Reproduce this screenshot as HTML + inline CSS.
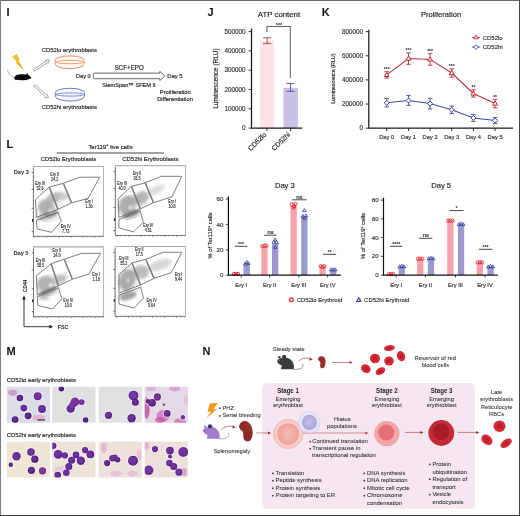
<!DOCTYPE html>
<html><head><meta charset="utf-8"><title>fig</title>
<style>
html,body{margin:0;padding:0;background:#fff;width:520px;height:516px;overflow:hidden;}
svg{display:block;font-family:"Liberation Sans",sans-serif;will-change:transform;}
</style></head><body>
<svg width="520" height="516" viewBox="0 0 520 516">
<defs>
<filter id="bl" x="-50%" y="-50%" width="200%" height="200%"><feGaussianBlur stdDeviation="1.8"/></filter>
<filter id="bs" x="-10%" y="-10%" width="120%" height="120%"><feGaussianBlur stdDeviation="0.35"/></filter>
</defs>
<rect x="0" y="0" width="520" height="516" fill="#fff"/>
<text x="6.40" y="15.70" font-size="11.0" font-weight="bold" fill="#111" >I</text>
<defs><linearGradient id="lg1" x1="0" y1="0" x2="0" y2="1"><stop offset="0" stop-color="#f7c81e"/><stop offset="1" stop-color="#f0a010"/></linearGradient></defs><polygon points="12.2,56.8 16.8,53.9 19.6,59.9 18.3,60.4 24.3,71.0 15.6,62.4 16.9,61.8" fill="url(#lg1)"/>
<path d="M7.4,69.6 C8.6,73.5 10.0,76.6 14.8,77.6" fill="none" stroke="#666" stroke-width="0.5"/>
<path d="M14.2,78.0 C14.6,75.2 18.5,74.2 22.0,74.3 C24.5,74.3 26.0,74.6 26.6,74.2 L26.9,72.9 L27.8,73.6 L28.2,75.0 C29.6,75.6 31.0,77.1 31.4,78.3 C30.0,79.0 28.6,79.2 27.4,79.6 L27.0,80.3 L25.8,79.9 C22.6,80.4 19.6,80.4 16.8,79.8 L15.5,80.3 L15.2,79.4 C14.5,79.1 14.2,78.6 14.2,78.0 Z" fill="#0a0a0a"/>
<polygon points="0.00,-1.00 15.82,-1.00 15.82,-1.95 18.92,0.00 15.82,1.95 15.82,1.00 0.00,1.00" transform="translate(33.8,70.6) rotate(-34.45)" fill="#fff" stroke="#777" stroke-width="0.6" stroke-linejoin="miter"/>
<polygon points="0.00,-1.00 15.59,-1.00 15.59,-1.95 18.69,0.00 15.59,1.95 15.59,1.00 0.00,1.00" transform="translate(34.4,85.4) rotate(41.96)" fill="#fff" stroke="#777" stroke-width="0.6" stroke-linejoin="miter"/>
<path d="M55.2,60.1 A14.5,4.2 0 0 1 84.2,60.1 L84.2,64.1 A14.5,4.5 0 0 1 55.2,64.1 Z" fill="#fff8f3" stroke="#dc7f4e" stroke-width="0.85"/>
<ellipse cx="69.7" cy="62.1" rx="13.9" ry="1.6" fill="none" stroke="#dc7f4e" stroke-width="0.7"/>
<path d="M55.400000000000006,92.5 A14.5,4.2 0 0 1 84.4,92.5 L84.4,96.5 A14.5,4.5 0 0 1 55.400000000000006,96.5 Z" fill="#f6f7fd" stroke="#5866b6" stroke-width="0.85"/>
<ellipse cx="69.9" cy="94.5" rx="13.9" ry="1.6" fill="none" stroke="#5866b6" stroke-width="0.7"/>
<text x="41.70" y="51.60" font-size="5.92" fill="#1e1e1e" stroke="#1e1e1e" stroke-width="0.16" >CD52lo erythroblasts</text>
<text x="41.70" y="109.00" font-size="5.92" fill="#1e1e1e" stroke="#1e1e1e" stroke-width="0.16" >CD52hi erythroblasts</text>
<text x="76.00" y="77.80" font-size="5.65" fill="#1e1e1e" stroke="#1e1e1e" stroke-width="0.16" >Day 0</text>
<path d="M94.6,73.1 L159.8,73.1 L159.8,71.4 L164.9,75.9 L159.8,80.5 L159.8,78.7 L94.6,78.7 Q93.4,78.7 93.4,77.5 L93.4,74.3 Q93.4,73.1 94.6,73.1 Z" fill="#fff" stroke="#4a4a4a" stroke-width="0.85"/>
<text x="114.40" y="70.10" font-size="6.3" fill="#1e1e1e" stroke="#1e1e1e" stroke-width="0.16" >SCF+EPO</text>
<text x="102.20" y="87.00" font-size="5.6" fill="#1e1e1e" stroke="#1e1e1e" stroke-width="0.16" >StemSpan™ SFEM II</text>
<text x="167.30" y="77.70" font-size="5.8" fill="#1e1e1e" stroke="#1e1e1e" stroke-width="0.16" >Day 5</text>
<text x="159.80" y="94.00" font-size="5.8" fill="#1e1e1e" stroke="#1e1e1e" stroke-width="0.16" >Proliferation</text>
<text x="157.20" y="100.90" font-size="5.8" fill="#1e1e1e" stroke="#1e1e1e" stroke-width="0.16" >Differentiation</text>
<text x="207.60" y="15.70" font-size="11.0" font-weight="bold" fill="#111" >J</text>
<text x="257.80" y="16.90" font-size="7.84" fill="#222" stroke="#222" stroke-width="0.16" >ATP content</text>
<rect x="260.1" y="40.7" width="14.0" height="87.4" fill="#fde2e6"/>
<rect x="283.4" y="87.8" width="14.5" height="40.3" fill="#c6c3e6"/>
<path d="M251.5,28.5 V128.1 H302.2" fill="none" stroke="#1a1a1a" stroke-width="1.25"/>
<line x1="248.6" y1="31.60" x2="251.4" y2="31.60" stroke="#1a1a1a" stroke-width="0.9"/>
<text x="245.60" y="33.80" font-size="6.3" text-anchor="end" fill="#333" stroke="#333" stroke-width="0.16" >500000</text>
<line x1="248.6" y1="50.90" x2="251.4" y2="50.90" stroke="#1a1a1a" stroke-width="0.9"/>
<text x="245.60" y="53.10" font-size="6.3" text-anchor="end" fill="#333" stroke="#333" stroke-width="0.16" >400000</text>
<line x1="248.6" y1="70.20" x2="251.4" y2="70.20" stroke="#1a1a1a" stroke-width="0.9"/>
<text x="245.60" y="72.40" font-size="6.3" text-anchor="end" fill="#333" stroke="#333" stroke-width="0.16" >300000</text>
<line x1="248.6" y1="89.50" x2="251.4" y2="89.50" stroke="#1a1a1a" stroke-width="0.9"/>
<text x="245.60" y="91.70" font-size="6.3" text-anchor="end" fill="#333" stroke="#333" stroke-width="0.16" >200000</text>
<line x1="248.6" y1="108.80" x2="251.4" y2="108.80" stroke="#1a1a1a" stroke-width="0.9"/>
<text x="245.60" y="111.00" font-size="6.3" text-anchor="end" fill="#333" stroke="#333" stroke-width="0.16" >100000</text>
<line x1="248.6" y1="128.10" x2="251.4" y2="128.10" stroke="#1a1a1a" stroke-width="0.9"/>
<text x="245.60" y="130.30" font-size="6.3" text-anchor="end" fill="#333" stroke="#333" stroke-width="0.16" >0</text>
<line x1="266.9" y1="128.1" x2="266.9" y2="131.0" stroke="#1a1a1a" stroke-width="0.9"/>
<line x1="290.6" y1="128.1" x2="290.6" y2="131.0" stroke="#1a1a1a" stroke-width="0.9"/>
<path d="M267.10,37.80 V43.60 M263.00,37.80 H271.20 M263.00,43.60 H271.20" stroke="#b8303c" stroke-width="0.9" fill="none"/>
<path d="M290.50,83.50 V91.30 M286.60,83.50 H294.40 M286.60,91.30 H294.40" stroke="#4a4e9e" stroke-width="0.9" fill="none"/>
<path d="M266.9,32 V26.5 H290.3 V77.9" fill="none" stroke="#333" stroke-width="0.8"/>
<text x="279.00" y="26.60" font-size="5.5" text-anchor="middle" font-weight="bold" fill="#222" >***</text>
<text transform="translate(218.3,78.6) rotate(-90)" font-size="6.4" text-anchor="middle" fill="#1e1e1e" textLength="60.3" stroke="#1e1e1e" stroke-width="0.16" lengthAdjust="spacingAndGlyphs">Luminescence (RLU)</text>
<text transform="translate(266.9,135.0) rotate(-45)" font-size="6.9" text-anchor="end" fill="#1e1e1e" stroke="#1e1e1e" stroke-width="0.16">CD52lo</text>
<text transform="translate(290.6,135.0) rotate(-45)" font-size="6.9" text-anchor="end" fill="#1e1e1e" stroke="#1e1e1e" stroke-width="0.16">CD52hi</text>
<text x="321.80" y="15.70" font-size="11.0" font-weight="bold" fill="#111" >K</text>
<text x="421.00" y="16.90" font-size="7.53" fill="#222" stroke="#222" stroke-width="0.16" >Proliferation</text>
<path d="M368.8,29.7 V128.1 H513.0" fill="none" stroke="#1a1a1a" stroke-width="1.25"/>
<line x1="365.7" y1="31.60" x2="368.5" y2="31.60" stroke="#1a1a1a" stroke-width="0.9"/>
<text x="362.90" y="33.80" font-size="6.3" text-anchor="end" fill="#333" stroke="#333" stroke-width="0.16" >800000</text>
<line x1="365.7" y1="55.75" x2="368.5" y2="55.75" stroke="#1a1a1a" stroke-width="0.9"/>
<text x="362.90" y="57.95" font-size="6.3" text-anchor="end" fill="#333" stroke="#333" stroke-width="0.16" >600000</text>
<line x1="365.7" y1="79.90" x2="368.5" y2="79.90" stroke="#1a1a1a" stroke-width="0.9"/>
<text x="362.90" y="82.10" font-size="6.3" text-anchor="end" fill="#333" stroke="#333" stroke-width="0.16" >400000</text>
<line x1="365.7" y1="104.05" x2="368.5" y2="104.05" stroke="#1a1a1a" stroke-width="0.9"/>
<text x="362.90" y="106.25" font-size="6.3" text-anchor="end" fill="#333" stroke="#333" stroke-width="0.16" >200000</text>
<line x1="365.7" y1="128.20" x2="368.5" y2="128.20" stroke="#1a1a1a" stroke-width="0.9"/>
<text x="362.90" y="130.40" font-size="6.3" text-anchor="end" fill="#333" stroke="#333" stroke-width="0.16" >0</text>
<line x1="386.7" y1="128.1" x2="386.7" y2="131.0" stroke="#1a1a1a" stroke-width="0.9"/>
<text x="386.70" y="139.40" font-size="5.75" text-anchor="middle" fill="#333" stroke="#333" stroke-width="0.16" >Day 0</text>
<line x1="408.5" y1="128.1" x2="408.5" y2="131.0" stroke="#1a1a1a" stroke-width="0.9"/>
<text x="408.50" y="139.40" font-size="5.75" text-anchor="middle" fill="#333" stroke="#333" stroke-width="0.16" >Day 1</text>
<line x1="430.1" y1="128.1" x2="430.1" y2="131.0" stroke="#1a1a1a" stroke-width="0.9"/>
<text x="430.10" y="139.40" font-size="5.75" text-anchor="middle" fill="#333" stroke="#333" stroke-width="0.16" >Day 2</text>
<line x1="451.7" y1="128.1" x2="451.7" y2="131.0" stroke="#1a1a1a" stroke-width="0.9"/>
<text x="451.70" y="139.40" font-size="5.75" text-anchor="middle" fill="#333" stroke="#333" stroke-width="0.16" >Day 3</text>
<line x1="473.4" y1="128.1" x2="473.4" y2="131.0" stroke="#1a1a1a" stroke-width="0.9"/>
<text x="473.40" y="139.40" font-size="5.75" text-anchor="middle" fill="#333" stroke="#333" stroke-width="0.16" >Day 4</text>
<line x1="495.1" y1="128.1" x2="495.1" y2="131.0" stroke="#1a1a1a" stroke-width="0.9"/>
<text x="495.10" y="139.40" font-size="5.75" text-anchor="middle" fill="#333" stroke="#333" stroke-width="0.16" >Day 5</text>
<text transform="translate(335.2,78.6) rotate(-90)" font-size="6.2" text-anchor="middle" fill="#1e1e1e" textLength="50.2" stroke="#1e1e1e" stroke-width="0.16" lengthAdjust="spacingAndGlyphs">Luminescence (RLU)</text>
<polyline points="386.7,102.8 408.5,100.5 430.1,103.6 451.7,109.8 473.4,117.9 495.1,120.6" fill="none" stroke="#3f4a9e" stroke-width="1.05"/>
<polyline points="386.7,74.9 408.5,58.6 430.1,59.4 451.7,73.0 473.4,93.5 495.1,103.6" fill="none" stroke="#b82c3c" stroke-width="1.05"/>
<path d="M386.70,98.60 V107.00 M384.40,98.60 H389.00 M384.40,107.00 H389.00" stroke="#3f4a9e" stroke-width="0.9" fill="none"/>
<polygon points="386.7,100.3 389.2,102.8 386.7,105.3 384.2,102.8" fill="#fff" stroke="#3f4a9e" stroke-width="1.0"/>
<path d="M408.50,95.60 V105.40 M406.20,95.60 H410.80 M406.20,105.40 H410.80" stroke="#3f4a9e" stroke-width="0.9" fill="none"/>
<polygon points="408.5,98.0 411.0,100.5 408.5,103.0 406.0,100.5" fill="#fff" stroke="#3f4a9e" stroke-width="1.0"/>
<path d="M430.10,98.40 V108.80 M427.80,98.40 H432.40 M427.80,108.80 H432.40" stroke="#3f4a9e" stroke-width="0.9" fill="none"/>
<polygon points="430.1,101.1 432.6,103.6 430.1,106.1 427.6,103.6" fill="#fff" stroke="#3f4a9e" stroke-width="1.0"/>
<path d="M451.70,106.00 V113.60 M449.40,106.00 H454.00 M449.40,113.60 H454.00" stroke="#3f4a9e" stroke-width="0.9" fill="none"/>
<polygon points="451.7,107.3 454.2,109.8 451.7,112.3 449.2,109.8" fill="#fff" stroke="#3f4a9e" stroke-width="1.0"/>
<path d="M473.40,114.40 V121.40 M471.10,114.40 H475.70 M471.10,121.40 H475.70" stroke="#3f4a9e" stroke-width="0.9" fill="none"/>
<polygon points="473.4,115.4 475.9,117.9 473.4,120.4 470.9,117.9" fill="#fff" stroke="#3f4a9e" stroke-width="1.0"/>
<path d="M495.10,117.60 V123.60 M492.80,117.60 H497.40 M492.80,123.60 H497.40" stroke="#3f4a9e" stroke-width="0.9" fill="none"/>
<polygon points="495.1,118.1 497.6,120.6 495.1,123.1 492.6,120.6" fill="#fff" stroke="#3f4a9e" stroke-width="1.0"/>
<path d="M386.70,71.70 V78.10 M384.40,71.70 H389.00 M384.40,78.10 H389.00" stroke="#b82c3c" stroke-width="0.9" fill="none"/>
<polygon points="386.7,72.30000000000001 389.09999999999997,76.5 384.3,76.5" fill="#fff" stroke="#b82c3c" stroke-width="1.0"/>
<text x="386.70" y="71.25" font-size="5.0" text-anchor="middle" font-weight="bold" fill="#222" >***</text>
<path d="M408.50,52.90 V64.30 M406.20,52.90 H410.80 M406.20,64.30 H410.80" stroke="#b82c3c" stroke-width="0.9" fill="none"/>
<polygon points="408.5,56.0 410.9,60.2 406.1,60.2" fill="#fff" stroke="#b82c3c" stroke-width="1.0"/>
<text x="408.50" y="52.45" font-size="5.0" text-anchor="middle" font-weight="bold" fill="#222" >***</text>
<path d="M430.10,53.60 V65.20 M427.80,53.60 H432.40 M427.80,65.20 H432.40" stroke="#b82c3c" stroke-width="0.9" fill="none"/>
<polygon points="430.1,56.8 432.5,61.0 427.70000000000005,61.0" fill="#fff" stroke="#b82c3c" stroke-width="1.0"/>
<text x="430.10" y="53.15" font-size="5.0" text-anchor="middle" font-weight="bold" fill="#222" >***</text>
<path d="M451.70,68.80 V77.20 M449.40,68.80 H454.00 M449.40,77.20 H454.00" stroke="#b82c3c" stroke-width="0.9" fill="none"/>
<polygon points="451.7,70.4 454.09999999999997,74.6 449.3,74.6" fill="#fff" stroke="#b82c3c" stroke-width="1.0"/>
<text x="451.70" y="68.35" font-size="5.0" text-anchor="middle" font-weight="bold" fill="#222" >***</text>
<path d="M473.40,89.90 V97.10 M471.10,89.90 H475.70 M471.10,97.10 H475.70" stroke="#b82c3c" stroke-width="0.9" fill="none"/>
<polygon points="473.4,90.9 475.79999999999995,95.1 471.0,95.1" fill="#fff" stroke="#b82c3c" stroke-width="1.0"/>
<text x="473.40" y="89.45" font-size="5.0" text-anchor="middle" font-weight="bold" fill="#222" >**</text>
<path d="M495.10,99.40 V107.80 M492.80,99.40 H497.40 M492.80,107.80 H497.40" stroke="#b82c3c" stroke-width="0.9" fill="none"/>
<polygon points="495.1,101.0 497.5,105.19999999999999 492.70000000000005,105.19999999999999" fill="#fff" stroke="#b82c3c" stroke-width="1.0"/>
<text x="495.10" y="98.95" font-size="5.0" text-anchor="middle" font-weight="bold" fill="#222" >**</text>
<line x1="472.2" y1="37.4" x2="479.8" y2="37.4" stroke="#b82c3c" stroke-width="1"/>
<polygon points="476,35 478.2,38.8 473.8,38.8" fill="#fff" stroke="#b82c3c" stroke-width="0.9"/>
<text x="482.70" y="39.60" font-size="6.0" fill="#333" stroke="#333" stroke-width="0.16" >CD52lo</text>
<line x1="472.2" y1="47.1" x2="479.8" y2="47.1" stroke="#3f4a9e" stroke-width="1"/>
<polygon points="476,44.8 478.3,47.1 476,49.4 473.7,47.1" fill="#fff" stroke="#3f4a9e" stroke-width="0.9"/>
<text x="482.70" y="49.30" font-size="6.0" fill="#333" stroke="#333" stroke-width="0.16" >CD52hi</text>
<text x="6.50" y="148.20" font-size="11.0" font-weight="bold" fill="#111" >L</text>
<line x1="56.7" y1="153.0" x2="164.0" y2="153.0" stroke="#333" stroke-width="0.9"/>
<text x="88.4" y="148.5" font-size="5.95" fill="#1e1e1e" stroke="#1e1e1e" stroke-width="0.16">Ter119<tspan font-size="4.2" dy="-2.3">+</tspan><tspan dy="2.3"> live cells</tspan></text>
<text x="40.80" y="161.30" font-size="5.86" fill="#1e1e1e" stroke="#1e1e1e" stroke-width="0.16" >CD52lo Erythroblasts</text>
<text x="122.30" y="161.30" font-size="5.95" fill="#1e1e1e" stroke="#1e1e1e" stroke-width="0.16" >CD52hi Erythroblasts</text>
<text x="13.80" y="174.40" font-size="5.62" font-weight="bold" fill="#222" >Day 3</text>
<text x="13.50" y="255.20" font-size="5.62" font-weight="bold" fill="#222" >Day 5</text>
<g filter="url(#bl)">
<ellipse cx="46" cy="207" rx="8" ry="8" fill="#b6b6b6" opacity="1" transform="rotate(0 46 207)"/>
<ellipse cx="56" cy="197" rx="10" ry="4.5" fill="#bababa" opacity="1" transform="rotate(-12 56 197)"/>
<ellipse cx="49" cy="215" rx="10" ry="3.2" fill="#929292" opacity="1" transform="rotate(-20 49 215)"/>
<ellipse cx="42" cy="218" rx="5" ry="2.5" fill="#b6b6b6" opacity="1" transform="rotate(0 42 218)"/>
<ellipse cx="64" cy="197" rx="6" ry="3" fill="#cacaca" opacity="1" transform="rotate(-15 64 197)"/>
<ellipse cx="50.5" cy="211" rx="2.2" ry="1.8" fill="#fafafa" opacity="1" transform="rotate(0 50.5 211)"/>
</g>
<clipPath id="pc1"><polygon points="35.4,199.7 49.2,187.1 63.3,183.3 79.9,177.2 99.7,177.2 88.1,198.3 70.7,203.2 58,209.4 36.4,217.3"/><polygon points="36.4,220.3 58,212.2 61.3,221.2 51.6,232.3 37.1,228.9"/></clipPath>
<g clip-path="url(#pc1)" fill="none" stroke="#8a8a8a" stroke-width="0.35" opacity="0.75">
<ellipse cx="50.5" cy="211" rx="3.45" ry="2.55" transform="rotate(-20 50.5 211)"/>
<ellipse cx="50.5" cy="211" rx="5.75" ry="4.25" transform="rotate(-20 50.5 211)"/>
<ellipse cx="50.5" cy="211" rx="8.05" ry="5.95" transform="rotate(-20 50.5 211)"/>
<ellipse cx="50.5" cy="211" rx="10.92" ry="8.07" transform="rotate(-20 50.5 211)"/>
<ellipse cx="50.5" cy="211" rx="13.80" ry="10.20" transform="rotate(-20 50.5 211)"/>
</g>
<rect x="33.4" y="166.5" width="70.20" height="69.80" fill="none" stroke="#8c8c8c" stroke-width="0.65"/>
<line x1="33.4" y1="166.5" x2="103.6" y2="166.5" stroke="#b0b0b0" stroke-width="1.0"/>
<path d="M33.4,168.5 V236.3 H103.6" fill="none" stroke="#555" stroke-width="0.6"/>
<line x1="31.599999999999998" y1="172.5" x2="33.4" y2="172.5" stroke="#333" stroke-width="0.7"/>
<line x1="31.599999999999998" y1="189.5" x2="33.4" y2="189.5" stroke="#333" stroke-width="0.7"/>
<line x1="31.599999999999998" y1="208.3" x2="33.4" y2="208.3" stroke="#333" stroke-width="0.7"/>
<line x1="31.599999999999998" y1="231.3" x2="33.4" y2="231.3" stroke="#333" stroke-width="0.7"/>
<rect x="32.0" y="219.1" width="1.2" height="2.6" fill="#111"/>
<line x1="32.5" y1="168.5" x2="33.4" y2="168.5" stroke="#888" stroke-width="0.4"/>
<line x1="32.5" y1="172.5" x2="33.4" y2="172.5" stroke="#888" stroke-width="0.4"/>
<line x1="32.5" y1="176.5" x2="33.4" y2="176.5" stroke="#888" stroke-width="0.4"/>
<line x1="32.5" y1="180.5" x2="33.4" y2="180.5" stroke="#888" stroke-width="0.4"/>
<line x1="32.5" y1="184.5" x2="33.4" y2="184.5" stroke="#888" stroke-width="0.4"/>
<line x1="32.5" y1="188.5" x2="33.4" y2="188.5" stroke="#888" stroke-width="0.4"/>
<line x1="32.5" y1="192.5" x2="33.4" y2="192.5" stroke="#888" stroke-width="0.4"/>
<line x1="32.5" y1="196.5" x2="33.4" y2="196.5" stroke="#888" stroke-width="0.4"/>
<line x1="32.5" y1="200.5" x2="33.4" y2="200.5" stroke="#888" stroke-width="0.4"/>
<line x1="32.5" y1="204.5" x2="33.4" y2="204.5" stroke="#888" stroke-width="0.4"/>
<line x1="32.5" y1="208.5" x2="33.4" y2="208.5" stroke="#888" stroke-width="0.4"/>
<line x1="32.5" y1="212.5" x2="33.4" y2="212.5" stroke="#888" stroke-width="0.4"/>
<line x1="32.5" y1="216.5" x2="33.4" y2="216.5" stroke="#888" stroke-width="0.4"/>
<line x1="32.5" y1="220.5" x2="33.4" y2="220.5" stroke="#888" stroke-width="0.4"/>
<line x1="32.5" y1="224.5" x2="33.4" y2="224.5" stroke="#888" stroke-width="0.4"/>
<line x1="32.5" y1="228.5" x2="33.4" y2="228.5" stroke="#888" stroke-width="0.4"/>
<line x1="32.5" y1="232.5" x2="33.4" y2="232.5" stroke="#888" stroke-width="0.4"/>
<line x1="34.90" y1="236.3" x2="34.90" y2="237.9" stroke="#444" stroke-width="0.5"/>
<line x1="38.90" y1="236.3" x2="38.90" y2="237.20000000000002" stroke="#444" stroke-width="0.5"/>
<line x1="42.90" y1="236.3" x2="42.90" y2="237.20000000000002" stroke="#444" stroke-width="0.5"/>
<line x1="46.90" y1="236.3" x2="46.90" y2="237.9" stroke="#444" stroke-width="0.5"/>
<line x1="50.90" y1="236.3" x2="50.90" y2="237.20000000000002" stroke="#444" stroke-width="0.5"/>
<line x1="54.90" y1="236.3" x2="54.90" y2="237.20000000000002" stroke="#444" stroke-width="0.5"/>
<line x1="58.90" y1="236.3" x2="58.90" y2="237.9" stroke="#444" stroke-width="0.5"/>
<line x1="62.90" y1="236.3" x2="62.90" y2="237.20000000000002" stroke="#444" stroke-width="0.5"/>
<line x1="66.90" y1="236.3" x2="66.90" y2="237.20000000000002" stroke="#444" stroke-width="0.5"/>
<line x1="70.90" y1="236.3" x2="70.90" y2="237.9" stroke="#444" stroke-width="0.5"/>
<line x1="74.90" y1="236.3" x2="74.90" y2="237.20000000000002" stroke="#444" stroke-width="0.5"/>
<line x1="78.90" y1="236.3" x2="78.90" y2="237.20000000000002" stroke="#444" stroke-width="0.5"/>
<line x1="82.90" y1="236.3" x2="82.90" y2="237.9" stroke="#444" stroke-width="0.5"/>
<line x1="86.90" y1="236.3" x2="86.90" y2="237.20000000000002" stroke="#444" stroke-width="0.5"/>
<line x1="90.90" y1="236.3" x2="90.90" y2="237.20000000000002" stroke="#444" stroke-width="0.5"/>
<line x1="94.90" y1="236.3" x2="94.90" y2="237.9" stroke="#444" stroke-width="0.5"/>
<line x1="98.90" y1="236.3" x2="98.90" y2="237.20000000000002" stroke="#444" stroke-width="0.5"/>
<line x1="102.90" y1="236.3" x2="102.90" y2="237.20000000000002" stroke="#444" stroke-width="0.5"/>
<polygon points="35.4,199.7 49.2,187.1 63.3,183.3 79.9,177.2 99.7,177.2 88.1,198.3 70.7,203.2 58,209.4 36.4,217.3" fill="none" stroke="#555" stroke-width="0.75" stroke-linejoin="round"/>
<line x1="49.2" y1="187.1" x2="58" y2="209.4" stroke="#7a7a7a" stroke-width="1.5"/>
<line x1="63.3" y1="183.3" x2="71.5" y2="202.6" stroke="#7a7a7a" stroke-width="1.5"/>
<polygon points="36.4,220.3 58,212.2 61.3,221.2 51.6,232.3 37.1,228.9" fill="none" stroke="#555" stroke-width="0.75" stroke-linejoin="round"/>
<g transform="translate(54.6,176.50) scale(0.82,1)"><text x="0" y="-0.4" font-size="4.5" text-anchor="middle" fill="#262626" stroke="#262626" stroke-width="0.12">Ery II</text><text x="0" y="4.6" font-size="4.5" text-anchor="middle" fill="#262626" stroke="#262626" stroke-width="0.12">24.2</text></g>
<g transform="translate(40.0,185.20) scale(0.82,1)"><text x="0" y="-0.4" font-size="4.5" text-anchor="middle" fill="#262626" stroke="#262626" stroke-width="0.12">Ery III</text><text x="0" y="4.6" font-size="4.5" text-anchor="middle" fill="#262626" stroke="#262626" stroke-width="0.12">52.6</text></g>
<g transform="translate(89.0,203.70) scale(0.82,1)"><text x="0" y="-0.4" font-size="4.5" text-anchor="middle" fill="#262626" stroke="#262626" stroke-width="0.12">Ery I</text><text x="0" y="4.6" font-size="4.5" text-anchor="middle" fill="#262626" stroke="#262626" stroke-width="0.12">1.36</text></g>
<g transform="translate(65.7,228.00) scale(0.82,1)"><text x="0" y="-0.4" font-size="4.5" text-anchor="middle" fill="#262626" stroke="#262626" stroke-width="0.12">Ery IV</text><text x="0" y="4.6" font-size="4.5" text-anchor="middle" fill="#262626" stroke="#262626" stroke-width="0.12">7.73</text></g>
<g filter="url(#bl)">
<ellipse cx="127" cy="205" rx="8" ry="10" fill="#b2b2b2" opacity="1" transform="rotate(30 127 205)"/>
<ellipse cx="141" cy="198" rx="9" ry="6" fill="#b6b6b6" opacity="1" transform="rotate(-30 141 198)"/>
<ellipse cx="156" cy="190" rx="10" ry="4" fill="#dcdcdc" opacity="1" transform="rotate(-25 156 190)"/>
<ellipse cx="131" cy="214" rx="9" ry="3.5" fill="#969696" opacity="1" transform="rotate(-20 131 214)"/>
<ellipse cx="130.5" cy="207.5" rx="1.8" ry="1.6" fill="#fff" opacity="1" transform="rotate(0 130.5 207.5)"/>
</g>
<clipPath id="pc2"><polygon points="118.1,198.9 131.1,186.5 145,182.9 161.4,176.3 181.8,176.3 172,196.8 153.2,202.8 140.1,209 118.9,217.5"/><polygon points="118.9,219.6 140.1,210.7 143.4,222.1 133.6,231.9 118.9,227.8"/></clipPath>
<g clip-path="url(#pc2)" fill="none" stroke="#8a8a8a" stroke-width="0.35" opacity="0.75">
<ellipse cx="130.5" cy="207.5" rx="3.60" ry="2.55" transform="rotate(-25 130.5 207.5)"/>
<ellipse cx="130.5" cy="207.5" rx="6.00" ry="4.25" transform="rotate(-25 130.5 207.5)"/>
<ellipse cx="130.5" cy="207.5" rx="9.00" ry="6.38" transform="rotate(-25 130.5 207.5)"/>
<ellipse cx="130.5" cy="207.5" rx="12.00" ry="8.50" transform="rotate(-25 130.5 207.5)"/>
<ellipse cx="130.5" cy="207.5" rx="15.60" ry="11.05" transform="rotate(-25 130.5 207.5)"/>
</g>
<rect x="115.3" y="165.7" width="70.20" height="69.80" fill="none" stroke="#8c8c8c" stroke-width="0.65"/>
<line x1="115.3" y1="165.7" x2="185.5" y2="165.7" stroke="#b0b0b0" stroke-width="1.0"/>
<path d="M115.3,167.7 V235.5 H185.5" fill="none" stroke="#555" stroke-width="0.6"/>
<line x1="113.5" y1="171.7" x2="115.3" y2="171.7" stroke="#333" stroke-width="0.7"/>
<line x1="113.5" y1="188.7" x2="115.3" y2="188.7" stroke="#333" stroke-width="0.7"/>
<line x1="113.5" y1="207.5" x2="115.3" y2="207.5" stroke="#333" stroke-width="0.7"/>
<line x1="113.5" y1="230.5" x2="115.3" y2="230.5" stroke="#333" stroke-width="0.7"/>
<rect x="113.89999999999999" y="218.29999999999998" width="1.2" height="2.6" fill="#111"/>
<line x1="114.39999999999999" y1="167.7" x2="115.3" y2="167.7" stroke="#888" stroke-width="0.4"/>
<line x1="114.39999999999999" y1="171.7" x2="115.3" y2="171.7" stroke="#888" stroke-width="0.4"/>
<line x1="114.39999999999999" y1="175.7" x2="115.3" y2="175.7" stroke="#888" stroke-width="0.4"/>
<line x1="114.39999999999999" y1="179.7" x2="115.3" y2="179.7" stroke="#888" stroke-width="0.4"/>
<line x1="114.39999999999999" y1="183.7" x2="115.3" y2="183.7" stroke="#888" stroke-width="0.4"/>
<line x1="114.39999999999999" y1="187.7" x2="115.3" y2="187.7" stroke="#888" stroke-width="0.4"/>
<line x1="114.39999999999999" y1="191.7" x2="115.3" y2="191.7" stroke="#888" stroke-width="0.4"/>
<line x1="114.39999999999999" y1="195.7" x2="115.3" y2="195.7" stroke="#888" stroke-width="0.4"/>
<line x1="114.39999999999999" y1="199.7" x2="115.3" y2="199.7" stroke="#888" stroke-width="0.4"/>
<line x1="114.39999999999999" y1="203.7" x2="115.3" y2="203.7" stroke="#888" stroke-width="0.4"/>
<line x1="114.39999999999999" y1="207.7" x2="115.3" y2="207.7" stroke="#888" stroke-width="0.4"/>
<line x1="114.39999999999999" y1="211.7" x2="115.3" y2="211.7" stroke="#888" stroke-width="0.4"/>
<line x1="114.39999999999999" y1="215.7" x2="115.3" y2="215.7" stroke="#888" stroke-width="0.4"/>
<line x1="114.39999999999999" y1="219.7" x2="115.3" y2="219.7" stroke="#888" stroke-width="0.4"/>
<line x1="114.39999999999999" y1="223.7" x2="115.3" y2="223.7" stroke="#888" stroke-width="0.4"/>
<line x1="114.39999999999999" y1="227.7" x2="115.3" y2="227.7" stroke="#888" stroke-width="0.4"/>
<line x1="114.39999999999999" y1="231.7" x2="115.3" y2="231.7" stroke="#888" stroke-width="0.4"/>
<line x1="116.80" y1="235.5" x2="116.80" y2="237.1" stroke="#444" stroke-width="0.5"/>
<line x1="120.80" y1="235.5" x2="120.80" y2="236.4" stroke="#444" stroke-width="0.5"/>
<line x1="124.80" y1="235.5" x2="124.80" y2="236.4" stroke="#444" stroke-width="0.5"/>
<line x1="128.80" y1="235.5" x2="128.80" y2="237.1" stroke="#444" stroke-width="0.5"/>
<line x1="132.80" y1="235.5" x2="132.80" y2="236.4" stroke="#444" stroke-width="0.5"/>
<line x1="136.80" y1="235.5" x2="136.80" y2="236.4" stroke="#444" stroke-width="0.5"/>
<line x1="140.80" y1="235.5" x2="140.80" y2="237.1" stroke="#444" stroke-width="0.5"/>
<line x1="144.80" y1="235.5" x2="144.80" y2="236.4" stroke="#444" stroke-width="0.5"/>
<line x1="148.80" y1="235.5" x2="148.80" y2="236.4" stroke="#444" stroke-width="0.5"/>
<line x1="152.80" y1="235.5" x2="152.80" y2="237.1" stroke="#444" stroke-width="0.5"/>
<line x1="156.80" y1="235.5" x2="156.80" y2="236.4" stroke="#444" stroke-width="0.5"/>
<line x1="160.80" y1="235.5" x2="160.80" y2="236.4" stroke="#444" stroke-width="0.5"/>
<line x1="164.80" y1="235.5" x2="164.80" y2="237.1" stroke="#444" stroke-width="0.5"/>
<line x1="168.80" y1="235.5" x2="168.80" y2="236.4" stroke="#444" stroke-width="0.5"/>
<line x1="172.80" y1="235.5" x2="172.80" y2="236.4" stroke="#444" stroke-width="0.5"/>
<line x1="176.80" y1="235.5" x2="176.80" y2="237.1" stroke="#444" stroke-width="0.5"/>
<line x1="180.80" y1="235.5" x2="180.80" y2="236.4" stroke="#444" stroke-width="0.5"/>
<line x1="184.80" y1="235.5" x2="184.80" y2="236.4" stroke="#444" stroke-width="0.5"/>
<polygon points="118.1,198.9 131.1,186.5 145,182.9 161.4,176.3 181.8,176.3 172,196.8 153.2,202.8 140.1,209 118.9,217.5" fill="none" stroke="#555" stroke-width="0.75" stroke-linejoin="round"/>
<line x1="131.6" y1="186.4" x2="140.4" y2="208.9" stroke="#7a7a7a" stroke-width="1.5"/>
<line x1="145.2" y1="182.8" x2="153.4" y2="202.6" stroke="#7a7a7a" stroke-width="1.5"/>
<polygon points="118.9,219.6 140.1,210.7 143.4,222.1 133.6,231.9 118.9,227.8" fill="none" stroke="#555" stroke-width="0.75" stroke-linejoin="round"/>
<g transform="translate(137.0,175.50) scale(0.82,1)"><text x="0" y="-0.4" font-size="4.5" text-anchor="middle" fill="#262626" stroke="#262626" stroke-width="0.12">Ery II</text><text x="0" y="4.6" font-size="4.5" text-anchor="middle" fill="#262626" stroke="#262626" stroke-width="0.12">26.5</text></g>
<g transform="translate(122.0,185.20) scale(0.82,1)"><text x="0" y="-0.4" font-size="4.5" text-anchor="middle" fill="#262626" stroke="#262626" stroke-width="0.12">Ery III</text><text x="0" y="4.6" font-size="4.5" text-anchor="middle" fill="#262626" stroke="#262626" stroke-width="0.12">40.9</text></g>
<g transform="translate(172.0,203.20) scale(0.82,1)"><text x="0" y="-0.4" font-size="4.5" text-anchor="middle" fill="#262626" stroke="#262626" stroke-width="0.12">Ery I</text><text x="0" y="4.6" font-size="4.5" text-anchor="middle" fill="#262626" stroke="#262626" stroke-width="0.12">10.8</text></g>
<g transform="translate(148.3,227.70) scale(0.82,1)"><text x="0" y="-0.4" font-size="4.5" text-anchor="middle" fill="#262626" stroke="#262626" stroke-width="0.12">Ery IV</text><text x="0" y="4.6" font-size="4.5" text-anchor="middle" fill="#262626" stroke="#262626" stroke-width="0.12">4.61</text></g>
<g filter="url(#bl)">
<ellipse cx="46" cy="284" rx="9" ry="8" fill="#b8b8b8" opacity="1" transform="rotate(0 46 284)"/>
<ellipse cx="60" cy="279" rx="8" ry="4" fill="#c4c4c4" opacity="1" transform="rotate(-20 60 279)"/>
<ellipse cx="48" cy="291.5" rx="10" ry="3" fill="#969696" opacity="1" transform="rotate(-22 48 291.5)"/>
<ellipse cx="44" cy="298" rx="6" ry="2" fill="#c2c2c2" opacity="1" transform="rotate(0 44 298)"/>
<ellipse cx="51" cy="285" rx="2.2" ry="2" fill="#f6f6f6" opacity="1" transform="rotate(0 51 285)"/>
</g>
<clipPath id="pc3"><polygon points="36.4,275.6 51.1,263.7 64.2,259.3 81.4,253.4 100.5,253.4 88.7,274.3 72.4,279.2 58.5,285.8 37.3,294.7"/><polygon points="37.3,296.6 58.5,287.6 61.8,298.8 52.5,309 37.7,305.4"/></clipPath>
<g clip-path="url(#pc3)" fill="none" stroke="#8a8a8a" stroke-width="0.35" opacity="0.75">
<ellipse cx="51" cy="285" rx="3.45" ry="2.55" transform="rotate(-20 51 285)"/>
<ellipse cx="51" cy="285" rx="5.75" ry="4.25" transform="rotate(-20 51 285)"/>
<ellipse cx="51" cy="285" rx="8.05" ry="5.95" transform="rotate(-20 51 285)"/>
<ellipse cx="51" cy="285" rx="10.92" ry="8.07" transform="rotate(-20 51 285)"/>
<ellipse cx="51" cy="285" rx="13.80" ry="10.20" transform="rotate(-20 51 285)"/>
</g>
<rect x="33.5" y="246.9" width="70.20" height="69.80" fill="none" stroke="#8c8c8c" stroke-width="0.65"/>
<line x1="33.5" y1="246.9" x2="103.7" y2="246.9" stroke="#b0b0b0" stroke-width="1.0"/>
<path d="M33.5,248.9 V316.7 H103.7" fill="none" stroke="#555" stroke-width="0.6"/>
<line x1="31.7" y1="252.9" x2="33.5" y2="252.9" stroke="#333" stroke-width="0.7"/>
<line x1="31.7" y1="269.9" x2="33.5" y2="269.9" stroke="#333" stroke-width="0.7"/>
<line x1="31.7" y1="288.7" x2="33.5" y2="288.7" stroke="#333" stroke-width="0.7"/>
<line x1="31.7" y1="311.7" x2="33.5" y2="311.7" stroke="#333" stroke-width="0.7"/>
<rect x="32.1" y="299.5" width="1.2" height="2.6" fill="#111"/>
<line x1="32.6" y1="248.9" x2="33.5" y2="248.9" stroke="#888" stroke-width="0.4"/>
<line x1="32.6" y1="252.9" x2="33.5" y2="252.9" stroke="#888" stroke-width="0.4"/>
<line x1="32.6" y1="256.9" x2="33.5" y2="256.9" stroke="#888" stroke-width="0.4"/>
<line x1="32.6" y1="260.9" x2="33.5" y2="260.9" stroke="#888" stroke-width="0.4"/>
<line x1="32.6" y1="264.9" x2="33.5" y2="264.9" stroke="#888" stroke-width="0.4"/>
<line x1="32.6" y1="268.9" x2="33.5" y2="268.9" stroke="#888" stroke-width="0.4"/>
<line x1="32.6" y1="272.9" x2="33.5" y2="272.9" stroke="#888" stroke-width="0.4"/>
<line x1="32.6" y1="276.9" x2="33.5" y2="276.9" stroke="#888" stroke-width="0.4"/>
<line x1="32.6" y1="280.9" x2="33.5" y2="280.9" stroke="#888" stroke-width="0.4"/>
<line x1="32.6" y1="284.9" x2="33.5" y2="284.9" stroke="#888" stroke-width="0.4"/>
<line x1="32.6" y1="288.9" x2="33.5" y2="288.9" stroke="#888" stroke-width="0.4"/>
<line x1="32.6" y1="292.9" x2="33.5" y2="292.9" stroke="#888" stroke-width="0.4"/>
<line x1="32.6" y1="296.9" x2="33.5" y2="296.9" stroke="#888" stroke-width="0.4"/>
<line x1="32.6" y1="300.9" x2="33.5" y2="300.9" stroke="#888" stroke-width="0.4"/>
<line x1="32.6" y1="304.9" x2="33.5" y2="304.9" stroke="#888" stroke-width="0.4"/>
<line x1="32.6" y1="308.9" x2="33.5" y2="308.9" stroke="#888" stroke-width="0.4"/>
<line x1="32.6" y1="312.9" x2="33.5" y2="312.9" stroke="#888" stroke-width="0.4"/>
<line x1="35.00" y1="316.7" x2="35.00" y2="318.3" stroke="#444" stroke-width="0.5"/>
<line x1="39.00" y1="316.7" x2="39.00" y2="317.59999999999997" stroke="#444" stroke-width="0.5"/>
<line x1="43.00" y1="316.7" x2="43.00" y2="317.59999999999997" stroke="#444" stroke-width="0.5"/>
<line x1="47.00" y1="316.7" x2="47.00" y2="318.3" stroke="#444" stroke-width="0.5"/>
<line x1="51.00" y1="316.7" x2="51.00" y2="317.59999999999997" stroke="#444" stroke-width="0.5"/>
<line x1="55.00" y1="316.7" x2="55.00" y2="317.59999999999997" stroke="#444" stroke-width="0.5"/>
<line x1="59.00" y1="316.7" x2="59.00" y2="318.3" stroke="#444" stroke-width="0.5"/>
<line x1="63.00" y1="316.7" x2="63.00" y2="317.59999999999997" stroke="#444" stroke-width="0.5"/>
<line x1="67.00" y1="316.7" x2="67.00" y2="317.59999999999997" stroke="#444" stroke-width="0.5"/>
<line x1="71.00" y1="316.7" x2="71.00" y2="318.3" stroke="#444" stroke-width="0.5"/>
<line x1="75.00" y1="316.7" x2="75.00" y2="317.59999999999997" stroke="#444" stroke-width="0.5"/>
<line x1="79.00" y1="316.7" x2="79.00" y2="317.59999999999997" stroke="#444" stroke-width="0.5"/>
<line x1="83.00" y1="316.7" x2="83.00" y2="318.3" stroke="#444" stroke-width="0.5"/>
<line x1="87.00" y1="316.7" x2="87.00" y2="317.59999999999997" stroke="#444" stroke-width="0.5"/>
<line x1="91.00" y1="316.7" x2="91.00" y2="317.59999999999997" stroke="#444" stroke-width="0.5"/>
<line x1="95.00" y1="316.7" x2="95.00" y2="318.3" stroke="#444" stroke-width="0.5"/>
<line x1="99.00" y1="316.7" x2="99.00" y2="317.59999999999997" stroke="#444" stroke-width="0.5"/>
<line x1="103.00" y1="316.7" x2="103.00" y2="317.59999999999997" stroke="#444" stroke-width="0.5"/>
<polygon points="36.4,275.6 51.1,263.7 64.2,259.3 81.4,253.4 100.5,253.4 88.7,274.3 72.4,279.2 58.5,285.8 37.3,294.7" fill="none" stroke="#555" stroke-width="0.75" stroke-linejoin="round"/>
<line x1="51.1" y1="263.7" x2="58.5" y2="285.8" stroke="#7a7a7a" stroke-width="1.5"/>
<line x1="64.2" y1="259.3" x2="72.4" y2="279.2" stroke="#7a7a7a" stroke-width="1.5"/>
<polygon points="37.3,296.6 58.5,287.6 61.8,298.8 52.5,309 37.7,305.4" fill="none" stroke="#555" stroke-width="0.75" stroke-linejoin="round"/>
<g transform="translate(56.9,252.60) scale(0.82,1)"><text x="0" y="-0.4" font-size="4.5" text-anchor="middle" fill="#262626" stroke="#262626" stroke-width="0.12">Ery II</text><text x="0" y="4.6" font-size="4.5" text-anchor="middle" fill="#262626" stroke="#262626" stroke-width="0.12">14.9</text></g>
<g transform="translate(40.5,262.70) scale(0.82,1)"><text x="0" y="-0.4" font-size="4.5" text-anchor="middle" fill="#262626" stroke="#262626" stroke-width="0.12">Ery III</text><text x="0" y="4.6" font-size="4.5" text-anchor="middle" fill="#262626" stroke="#262626" stroke-width="0.12">58.5</text></g>
<g transform="translate(96.1,276.10) scale(0.82,1)"><text x="0" y="-0.4" font-size="4.5" text-anchor="middle" fill="#262626" stroke="#262626" stroke-width="0.12">Ery I</text><text x="0" y="4.6" font-size="4.5" text-anchor="middle" fill="#262626" stroke="#262626" stroke-width="0.12">1.18</text></g>
<g transform="translate(68.3,302.00) scale(0.82,1)"><text x="0" y="-0.4" font-size="4.5" text-anchor="middle" fill="#262626" stroke="#262626" stroke-width="0.12">Ery IV</text><text x="0" y="4.6" font-size="4.5" text-anchor="middle" fill="#262626" stroke="#262626" stroke-width="0.12">10.0</text></g>
<g filter="url(#bl)">
<ellipse cx="127" cy="280" rx="8" ry="11" fill="#afafaf" opacity="1" transform="rotate(20 127 280)"/>
<ellipse cx="141" cy="272" rx="8" ry="7" fill="#bcbcbc" opacity="1" transform="rotate(0 141 272)"/>
<ellipse cx="160" cy="265" rx="12" ry="5" fill="#d6d6d6" opacity="1" transform="rotate(-20 160 265)"/>
<ellipse cx="128" cy="296" rx="9" ry="4" fill="#a2a2a2" opacity="1" transform="rotate(-15 128 296)"/>
<ellipse cx="128" cy="280" rx="1.6" ry="2.5" fill="#dadada" opacity="1" transform="rotate(0 128 280)"/>
</g>
<clipPath id="pc4"><polygon points="118.9,274.6 132,262.9 145.8,259.3 163,252.3 181.8,252.3 171.2,272.7 154,278.4 140.5,285 118.9,293.1"/><polygon points="118.9,295.2 140.5,287.2 143.5,298 134,308 119,304"/></clipPath>
<g clip-path="url(#pc4)" fill="none" stroke="#8a8a8a" stroke-width="0.35" opacity="0.75">
<ellipse cx="128" cy="281" rx="2.70" ry="3.30" transform="rotate(-10 128 281)"/>
<ellipse cx="128" cy="281" rx="4.50" ry="5.50" transform="rotate(-10 128 281)"/>
<ellipse cx="128" cy="281" rx="6.75" ry="8.25" transform="rotate(-10 128 281)"/>
<ellipse cx="128" cy="281" rx="9.00" ry="11.00" transform="rotate(-10 128 281)"/>
<ellipse cx="128" cy="281" rx="11.70" ry="14.30" transform="rotate(-10 128 281)"/>
</g>
<rect x="115.1" y="246.5" width="70.20" height="69.80" fill="none" stroke="#8c8c8c" stroke-width="0.65"/>
<line x1="115.1" y1="246.5" x2="185.3" y2="246.5" stroke="#b0b0b0" stroke-width="1.0"/>
<path d="M115.1,248.5 V316.3 H185.3" fill="none" stroke="#555" stroke-width="0.6"/>
<line x1="113.3" y1="252.5" x2="115.1" y2="252.5" stroke="#333" stroke-width="0.7"/>
<line x1="113.3" y1="269.5" x2="115.1" y2="269.5" stroke="#333" stroke-width="0.7"/>
<line x1="113.3" y1="288.3" x2="115.1" y2="288.3" stroke="#333" stroke-width="0.7"/>
<line x1="113.3" y1="311.3" x2="115.1" y2="311.3" stroke="#333" stroke-width="0.7"/>
<rect x="113.69999999999999" y="299.1" width="1.2" height="2.6" fill="#111"/>
<line x1="114.19999999999999" y1="248.5" x2="115.1" y2="248.5" stroke="#888" stroke-width="0.4"/>
<line x1="114.19999999999999" y1="252.5" x2="115.1" y2="252.5" stroke="#888" stroke-width="0.4"/>
<line x1="114.19999999999999" y1="256.5" x2="115.1" y2="256.5" stroke="#888" stroke-width="0.4"/>
<line x1="114.19999999999999" y1="260.5" x2="115.1" y2="260.5" stroke="#888" stroke-width="0.4"/>
<line x1="114.19999999999999" y1="264.5" x2="115.1" y2="264.5" stroke="#888" stroke-width="0.4"/>
<line x1="114.19999999999999" y1="268.5" x2="115.1" y2="268.5" stroke="#888" stroke-width="0.4"/>
<line x1="114.19999999999999" y1="272.5" x2="115.1" y2="272.5" stroke="#888" stroke-width="0.4"/>
<line x1="114.19999999999999" y1="276.5" x2="115.1" y2="276.5" stroke="#888" stroke-width="0.4"/>
<line x1="114.19999999999999" y1="280.5" x2="115.1" y2="280.5" stroke="#888" stroke-width="0.4"/>
<line x1="114.19999999999999" y1="284.5" x2="115.1" y2="284.5" stroke="#888" stroke-width="0.4"/>
<line x1="114.19999999999999" y1="288.5" x2="115.1" y2="288.5" stroke="#888" stroke-width="0.4"/>
<line x1="114.19999999999999" y1="292.5" x2="115.1" y2="292.5" stroke="#888" stroke-width="0.4"/>
<line x1="114.19999999999999" y1="296.5" x2="115.1" y2="296.5" stroke="#888" stroke-width="0.4"/>
<line x1="114.19999999999999" y1="300.5" x2="115.1" y2="300.5" stroke="#888" stroke-width="0.4"/>
<line x1="114.19999999999999" y1="304.5" x2="115.1" y2="304.5" stroke="#888" stroke-width="0.4"/>
<line x1="114.19999999999999" y1="308.5" x2="115.1" y2="308.5" stroke="#888" stroke-width="0.4"/>
<line x1="114.19999999999999" y1="312.5" x2="115.1" y2="312.5" stroke="#888" stroke-width="0.4"/>
<line x1="116.60" y1="316.3" x2="116.60" y2="317.90000000000003" stroke="#444" stroke-width="0.5"/>
<line x1="120.60" y1="316.3" x2="120.60" y2="317.2" stroke="#444" stroke-width="0.5"/>
<line x1="124.60" y1="316.3" x2="124.60" y2="317.2" stroke="#444" stroke-width="0.5"/>
<line x1="128.60" y1="316.3" x2="128.60" y2="317.90000000000003" stroke="#444" stroke-width="0.5"/>
<line x1="132.60" y1="316.3" x2="132.60" y2="317.2" stroke="#444" stroke-width="0.5"/>
<line x1="136.60" y1="316.3" x2="136.60" y2="317.2" stroke="#444" stroke-width="0.5"/>
<line x1="140.60" y1="316.3" x2="140.60" y2="317.90000000000003" stroke="#444" stroke-width="0.5"/>
<line x1="144.60" y1="316.3" x2="144.60" y2="317.2" stroke="#444" stroke-width="0.5"/>
<line x1="148.60" y1="316.3" x2="148.60" y2="317.2" stroke="#444" stroke-width="0.5"/>
<line x1="152.60" y1="316.3" x2="152.60" y2="317.90000000000003" stroke="#444" stroke-width="0.5"/>
<line x1="156.60" y1="316.3" x2="156.60" y2="317.2" stroke="#444" stroke-width="0.5"/>
<line x1="160.60" y1="316.3" x2="160.60" y2="317.2" stroke="#444" stroke-width="0.5"/>
<line x1="164.60" y1="316.3" x2="164.60" y2="317.90000000000003" stroke="#444" stroke-width="0.5"/>
<line x1="168.60" y1="316.3" x2="168.60" y2="317.2" stroke="#444" stroke-width="0.5"/>
<line x1="172.60" y1="316.3" x2="172.60" y2="317.2" stroke="#444" stroke-width="0.5"/>
<line x1="176.60" y1="316.3" x2="176.60" y2="317.90000000000003" stroke="#444" stroke-width="0.5"/>
<line x1="180.60" y1="316.3" x2="180.60" y2="317.2" stroke="#444" stroke-width="0.5"/>
<line x1="184.60" y1="316.3" x2="184.60" y2="317.2" stroke="#444" stroke-width="0.5"/>
<polygon points="118.9,274.6 132,262.9 145.8,259.3 163,252.3 181.8,252.3 171.2,272.7 154,278.4 140.5,285 118.9,293.1" fill="none" stroke="#555" stroke-width="0.75" stroke-linejoin="round"/>
<line x1="132" y1="262.9" x2="140.5" y2="285" stroke="#7a7a7a" stroke-width="1.5"/>
<line x1="145.8" y1="259.3" x2="154" y2="278.4" stroke="#7a7a7a" stroke-width="1.5"/>
<polygon points="118.9,295.2 140.5,287.2 143.5,298 134,308 119,304" fill="none" stroke="#555" stroke-width="0.75" stroke-linejoin="round"/>
<g transform="translate(139.3,251.60) scale(0.82,1)"><text x="0" y="-0.4" font-size="4.5" text-anchor="middle" fill="#262626" stroke="#262626" stroke-width="0.12">Ery II</text><text x="0" y="4.6" font-size="4.5" text-anchor="middle" fill="#262626" stroke="#262626" stroke-width="0.12">17.5</text></g>
<g transform="translate(123.8,260.30) scale(0.82,1)"><text x="0" y="-0.4" font-size="4.5" text-anchor="middle" fill="#262626" stroke="#262626" stroke-width="0.12">Ery III</text><text x="0" y="4.6" font-size="4.5" text-anchor="middle" fill="#262626" stroke="#262626" stroke-width="0.12">55.2</text></g>
<g transform="translate(178.5,276.10) scale(0.82,1)"><text x="0" y="-0.4" font-size="4.5" text-anchor="middle" fill="#262626" stroke="#262626" stroke-width="0.12">Ery I</text><text x="0" y="4.6" font-size="4.5" text-anchor="middle" fill="#262626" stroke="#262626" stroke-width="0.12">9.44</text></g>
<g transform="translate(151.6,302.80) scale(0.82,1)"><text x="0" y="-0.4" font-size="4.5" text-anchor="middle" fill="#262626" stroke="#262626" stroke-width="0.12">Ery IV</text><text x="0" y="4.6" font-size="4.5" text-anchor="middle" fill="#262626" stroke="#262626" stroke-width="0.12">9.64</text></g>
<path d="M24,326.7 V298.5 M24,326.7 H50.5" fill="none" stroke="#222" stroke-width="0.9"/>
<polygon points="24,295.6 22.1,299.6 25.9,299.6" fill="#222"/>
<polygon points="53.3,326.7 49.3,324.8 49.3,328.6" fill="#222"/>
<text transform="translate(26.9,285.9) rotate(-90)" font-size="5.6" text-anchor="middle" fill="#222" font-weight="bold" textLength="12.5" lengthAdjust="spacingAndGlyphs">CD44</text>
<text x="57.7" y="328.8" font-size="5.6" fill="#222" font-weight="bold" textLength="10.6" lengthAdjust="spacingAndGlyphs">FSC</text>
<text x="274.90" y="188.20" font-size="7.62" fill="#222" stroke="#222" stroke-width="0.16" >Day 3</text>
<rect x="232.90" y="273.93" width="6.3" height="1.27" fill="#f4a3ab"/>
<rect x="243.60" y="264.40" width="6.3" height="10.80" fill="#9a9acf"/>
<circle cx="233.85" cy="273.93" r="1.65" fill="none" stroke="#e0202e" stroke-width="0.85"/>
<circle cx="236.05" cy="273.93" r="1.65" fill="none" stroke="#e0202e" stroke-width="0.85"/>
<circle cx="238.05" cy="273.93" r="1.65" fill="none" stroke="#e0202e" stroke-width="0.85"/>
<polygon points="245.15,262.12 246.85,265.12 243.45,265.12" fill="none" stroke="#3a40a0" stroke-width="0.85" stroke-linejoin="round"/>
<polygon points="248.35,261.49 250.05,264.49 246.65,264.49" fill="none" stroke="#3a40a0" stroke-width="0.85" stroke-linejoin="round"/>
<polygon points="246.75,260.47 248.45,263.47 245.05,263.47" fill="none" stroke="#3a40a0" stroke-width="0.85" stroke-linejoin="round"/>
<rect x="261.30" y="245.99" width="6.3" height="29.21" fill="#f4a3ab"/>
<rect x="272.00" y="244.08" width="6.3" height="31.12" fill="#9a9acf"/>
<circle cx="262.45" cy="246.24" r="1.65" fill="none" stroke="#e0202e" stroke-width="0.85"/>
<circle cx="264.65" cy="245.61" r="1.65" fill="none" stroke="#e0202e" stroke-width="0.85"/>
<circle cx="266.25" cy="245.74" r="1.65" fill="none" stroke="#e0202e" stroke-width="0.85"/>
<polygon points="273.75,240.28 275.45,243.28 272.05,243.28" fill="none" stroke="#3a40a0" stroke-width="0.85" stroke-linejoin="round"/>
<polygon points="276.55,240.66 278.25,243.66 274.85,243.66" fill="none" stroke="#3a40a0" stroke-width="0.85" stroke-linejoin="round"/>
<polygon points="275.35,245.36 277.05,248.36 273.65,248.36" fill="none" stroke="#3a40a0" stroke-width="0.85" stroke-linejoin="round"/>
<polygon points="275.15,237.99 276.85,240.99 273.45,240.99" fill="none" stroke="#3a40a0" stroke-width="0.85" stroke-linejoin="round"/>
<rect x="290.50" y="205.98" width="6.3" height="69.22" fill="#f4a3ab"/>
<rect x="301.20" y="216.14" width="6.3" height="59.06" fill="#9a9acf"/>
<circle cx="291.85" cy="204.46" r="1.65" fill="none" stroke="#e0202e" stroke-width="0.85"/>
<circle cx="294.05" cy="205.98" r="1.65" fill="none" stroke="#e0202e" stroke-width="0.85"/>
<circle cx="295.45" cy="203.95" r="1.65" fill="none" stroke="#e0202e" stroke-width="0.85"/>
<circle cx="293.65" cy="207.51" r="1.65" fill="none" stroke="#e0202e" stroke-width="0.85"/>
<polygon points="304.35,208.53 306.05,211.53 302.65,211.53" fill="none" stroke="#3a40a0" stroke-width="0.85" stroke-linejoin="round"/>
<polygon points="302.75,214.24 304.45,217.24 301.05,217.24" fill="none" stroke="#3a40a0" stroke-width="0.85" stroke-linejoin="round"/>
<polygon points="305.95,213.86 307.65,216.86 304.25,216.86" fill="none" stroke="#3a40a0" stroke-width="0.85" stroke-linejoin="round"/>
<polygon points="304.55,216.15 306.25,219.15 302.85,219.15" fill="none" stroke="#3a40a0" stroke-width="0.85" stroke-linejoin="round"/>
<rect x="319.40" y="266.31" width="6.3" height="8.89" fill="#f4a3ab"/>
<rect x="330.10" y="269.74" width="6.3" height="5.46" fill="#9a9acf"/>
<circle cx="320.75" cy="266.31" r="1.65" fill="none" stroke="#e0202e" stroke-width="0.85"/>
<circle cx="324.15" cy="266.31" r="1.65" fill="none" stroke="#e0202e" stroke-width="0.85"/>
<circle cx="322.55" cy="266.94" r="1.65" fill="none" stroke="#e0202e" stroke-width="0.85"/>
<polygon points="331.25,267.84 332.95,270.84 329.55,270.84" fill="none" stroke="#3a40a0" stroke-width="0.85" stroke-linejoin="round"/>
<polygon points="333.25,267.84 334.95,270.84 331.55,270.84" fill="none" stroke="#3a40a0" stroke-width="0.85" stroke-linejoin="round"/>
<polygon points="335.25,267.84 336.95,270.84 333.55,270.84" fill="none" stroke="#3a40a0" stroke-width="0.85" stroke-linejoin="round"/>
<path d="M228.4,196.60 V275.2 H340.8" fill="none" stroke="#111" stroke-width="1.2"/>
<line x1="225.8" y1="275.20" x2="228.4" y2="275.20" stroke="#111" stroke-width="0.8"/>
<text x="223.50" y="277.30" font-size="6.2" text-anchor="end" fill="#333" stroke="#333" stroke-width="0.16" >0</text>
<line x1="225.8" y1="249.80" x2="228.4" y2="249.80" stroke="#111" stroke-width="0.8"/>
<text x="223.50" y="251.90" font-size="6.2" text-anchor="end" fill="#333" stroke="#333" stroke-width="0.16" >20</text>
<line x1="225.8" y1="224.40" x2="228.4" y2="224.40" stroke="#111" stroke-width="0.8"/>
<text x="223.50" y="226.50" font-size="6.2" text-anchor="end" fill="#333" stroke="#333" stroke-width="0.16" >40</text>
<line x1="225.8" y1="199.00" x2="228.4" y2="199.00" stroke="#111" stroke-width="0.8"/>
<text x="223.50" y="201.10" font-size="6.2" text-anchor="end" fill="#333" stroke="#333" stroke-width="0.16" >60</text>
<line x1="241.2" y1="275.2" x2="241.2" y2="277.5" stroke="#111" stroke-width="0.8"/>
<text x="241.20" y="286.50" font-size="5.7" text-anchor="middle" fill="#333" stroke="#333" stroke-width="0.16" >Ery I</text>
<line x1="269.6" y1="275.2" x2="269.6" y2="277.5" stroke="#111" stroke-width="0.8"/>
<text x="269.60" y="286.50" font-size="5.7" text-anchor="middle" fill="#333" stroke="#333" stroke-width="0.16" >Ery II</text>
<line x1="298.8" y1="275.2" x2="298.8" y2="277.5" stroke="#111" stroke-width="0.8"/>
<text x="298.80" y="286.50" font-size="5.7" text-anchor="middle" fill="#333" stroke="#333" stroke-width="0.16" >Ery III</text>
<line x1="327.7" y1="275.2" x2="327.7" y2="277.5" stroke="#111" stroke-width="0.8"/>
<text x="327.70" y="286.50" font-size="5.7" text-anchor="middle" fill="#333" stroke="#333" stroke-width="0.16" >Ery IV</text>
<line x1="234.9" y1="246.3" x2="247.3" y2="246.3" stroke="#222" stroke-width="0.85"/>
<text x="241.10" y="245.50" font-size="5.2" text-anchor="middle" font-weight="bold" fill="#222" >***</text>
<line x1="264.3" y1="235.2" x2="276.7" y2="235.2" stroke="#222" stroke-width="0.85"/>
<text x="270.50" y="233.90" font-size="5.8" text-anchor="middle" fill="#222" stroke="#222" stroke-width="0.16" >ns</text>
<line x1="292.1" y1="199.8" x2="306.7" y2="199.8" stroke="#222" stroke-width="0.85"/>
<text x="299.40" y="198.50" font-size="5.8" text-anchor="middle" fill="#222" stroke="#222" stroke-width="0.16" >ns</text>
<line x1="323.0" y1="254.3" x2="336.2" y2="254.3" stroke="#222" stroke-width="0.85"/>
<text x="329.60" y="253.50" font-size="5.2" text-anchor="middle" font-weight="bold" fill="#222" >**</text>
<text transform="translate(212.1,235.6) rotate(-90)" font-size="5.7" text-anchor="middle" fill="#1e1e1e" textLength="46" stroke="#1e1e1e" stroke-width="0.16" lengthAdjust="spacingAndGlyphs">% of Ter119<tspan font-size="3.6" dy="-2">+</tspan><tspan dy="2"> cells</tspan></text>
<text x="431.20" y="188.20" font-size="7.62" fill="#222" stroke="#222" stroke-width="0.16" >Day 5</text>
<rect x="387.90" y="274.16" width="6.3" height="0.94" fill="#f4a3ab"/>
<rect x="398.60" y="266.66" width="6.3" height="8.44" fill="#9a9acf"/>
<circle cx="388.85" cy="274.16" r="1.65" fill="none" stroke="#e0202e" stroke-width="0.85"/>
<circle cx="391.05" cy="274.16" r="1.65" fill="none" stroke="#e0202e" stroke-width="0.85"/>
<circle cx="393.25" cy="274.16" r="1.65" fill="none" stroke="#e0202e" stroke-width="0.85"/>
<polygon points="399.55,264.76 401.25,267.76 397.85,267.76" fill="none" stroke="#3a40a0" stroke-width="0.85" stroke-linejoin="round"/>
<polygon points="401.75,264.20 403.45,267.20 400.05,267.20" fill="none" stroke="#3a40a0" stroke-width="0.85" stroke-linejoin="round"/>
<polygon points="403.95,264.76 405.65,267.76 402.25,267.76" fill="none" stroke="#3a40a0" stroke-width="0.85" stroke-linejoin="round"/>
<rect x="417.10" y="258.69" width="6.3" height="16.41" fill="#f4a3ab"/>
<rect x="427.80" y="258.69" width="6.3" height="16.41" fill="#9a9acf"/>
<circle cx="418.05" cy="258.69" r="1.65" fill="none" stroke="#e0202e" stroke-width="0.85"/>
<circle cx="420.25" cy="258.69" r="1.65" fill="none" stroke="#e0202e" stroke-width="0.85"/>
<circle cx="422.45" cy="258.69" r="1.65" fill="none" stroke="#e0202e" stroke-width="0.85"/>
<polygon points="428.75,256.79 430.45,259.79 427.05,259.79" fill="none" stroke="#3a40a0" stroke-width="0.85" stroke-linejoin="round"/>
<polygon points="430.95,256.23 432.65,259.23 429.25,259.23" fill="none" stroke="#3a40a0" stroke-width="0.85" stroke-linejoin="round"/>
<polygon points="433.15,256.79 434.85,259.79 431.45,259.79" fill="none" stroke="#3a40a0" stroke-width="0.85" stroke-linejoin="round"/>
<rect x="447.20" y="220.73" width="6.3" height="54.38" fill="#f4a3ab"/>
<rect x="457.90" y="224.48" width="6.3" height="50.62" fill="#9a9acf"/>
<circle cx="448.15" cy="220.73" r="1.65" fill="none" stroke="#e0202e" stroke-width="0.85"/>
<circle cx="450.35" cy="220.44" r="1.65" fill="none" stroke="#e0202e" stroke-width="0.85"/>
<circle cx="452.55" cy="220.73" r="1.65" fill="none" stroke="#e0202e" stroke-width="0.85"/>
<polygon points="458.85,222.58 460.55,225.58 457.15,225.58" fill="none" stroke="#3a40a0" stroke-width="0.85" stroke-linejoin="round"/>
<polygon points="461.05,221.83 462.75,224.83 459.35,224.83" fill="none" stroke="#3a40a0" stroke-width="0.85" stroke-linejoin="round"/>
<polygon points="463.25,222.58 464.95,225.58 461.55,225.58" fill="none" stroke="#3a40a0" stroke-width="0.85" stroke-linejoin="round"/>
<rect x="476.70" y="262.44" width="6.3" height="12.66" fill="#f4a3ab"/>
<rect x="487.40" y="266.85" width="6.3" height="8.25" fill="#9a9acf"/>
<circle cx="477.65" cy="262.44" r="1.65" fill="none" stroke="#e0202e" stroke-width="0.85"/>
<circle cx="479.85" cy="262.16" r="1.65" fill="none" stroke="#e0202e" stroke-width="0.85"/>
<circle cx="482.05" cy="262.44" r="1.65" fill="none" stroke="#e0202e" stroke-width="0.85"/>
<polygon points="488.35,264.95 490.05,267.95 486.65,267.95" fill="none" stroke="#3a40a0" stroke-width="0.85" stroke-linejoin="round"/>
<polygon points="490.55,264.39 492.25,267.39 488.85,267.39" fill="none" stroke="#3a40a0" stroke-width="0.85" stroke-linejoin="round"/>
<polygon points="492.75,264.95 494.45,267.95 491.05,267.95" fill="none" stroke="#3a40a0" stroke-width="0.85" stroke-linejoin="round"/>
<path d="M383.5,197.70 V275.1 H497.8" fill="none" stroke="#111" stroke-width="1.2"/>
<line x1="380.9" y1="275.10" x2="383.5" y2="275.10" stroke="#111" stroke-width="0.8"/>
<text x="378.60" y="277.20" font-size="6.2" text-anchor="end" fill="#333" stroke="#333" stroke-width="0.16" >0</text>
<line x1="380.9" y1="256.35" x2="383.5" y2="256.35" stroke="#111" stroke-width="0.8"/>
<text x="378.60" y="258.45" font-size="6.2" text-anchor="end" fill="#333" stroke="#333" stroke-width="0.16" >20</text>
<line x1="380.9" y1="237.60" x2="383.5" y2="237.60" stroke="#111" stroke-width="0.8"/>
<text x="378.60" y="239.70" font-size="6.2" text-anchor="end" fill="#333" stroke="#333" stroke-width="0.16" >40</text>
<line x1="380.9" y1="218.85" x2="383.5" y2="218.85" stroke="#111" stroke-width="0.8"/>
<text x="378.60" y="220.95" font-size="6.2" text-anchor="end" fill="#333" stroke="#333" stroke-width="0.16" >60</text>
<line x1="380.9" y1="200.10" x2="383.5" y2="200.10" stroke="#111" stroke-width="0.8"/>
<text x="378.60" y="202.20" font-size="6.2" text-anchor="end" fill="#333" stroke="#333" stroke-width="0.16" >80</text>
<line x1="396.2" y1="275.1" x2="396.2" y2="277.40000000000003" stroke="#111" stroke-width="0.8"/>
<text x="396.20" y="286.50" font-size="5.7" text-anchor="middle" fill="#333" stroke="#333" stroke-width="0.16" >Ery I</text>
<line x1="425.4" y1="275.1" x2="425.4" y2="277.40000000000003" stroke="#111" stroke-width="0.8"/>
<text x="425.40" y="286.50" font-size="5.7" text-anchor="middle" fill="#333" stroke="#333" stroke-width="0.16" >Ery II</text>
<line x1="455.5" y1="275.1" x2="455.5" y2="277.40000000000003" stroke="#111" stroke-width="0.8"/>
<text x="455.50" y="286.50" font-size="5.7" text-anchor="middle" fill="#333" stroke="#333" stroke-width="0.16" >Ery III</text>
<line x1="485.0" y1="275.1" x2="485.0" y2="277.40000000000003" stroke="#111" stroke-width="0.8"/>
<text x="485.00" y="286.50" font-size="5.7" text-anchor="middle" fill="#333" stroke="#333" stroke-width="0.16" >Ery IV</text>
<line x1="390.0" y1="246.3" x2="402.4" y2="246.3" stroke="#222" stroke-width="0.85"/>
<text x="396.20" y="245.50" font-size="5.2" text-anchor="middle" font-weight="bold" fill="#222" >****</text>
<line x1="419.1" y1="238.3" x2="432.4" y2="238.3" stroke="#222" stroke-width="0.85"/>
<text x="425.75" y="237.00" font-size="5.8" text-anchor="middle" fill="#222" stroke="#222" stroke-width="0.16" >ns</text>
<line x1="449.4" y1="210.6" x2="463.6" y2="210.6" stroke="#222" stroke-width="0.85"/>
<text x="456.50" y="209.80" font-size="5.2" text-anchor="middle" font-weight="bold" fill="#222" >*</text>
<line x1="478.8" y1="249.3" x2="492.3" y2="249.3" stroke="#222" stroke-width="0.85"/>
<text x="485.55" y="248.50" font-size="5.2" text-anchor="middle" font-weight="bold" fill="#222" >***</text>
<text transform="translate(365.0,236.0) rotate(-90)" font-size="5.7" text-anchor="middle" fill="#1e1e1e" textLength="46" stroke="#1e1e1e" stroke-width="0.16" lengthAdjust="spacingAndGlyphs">% of Ter119<tspan font-size="3.6" dy="-2">+</tspan><tspan dy="2"> cells</tspan></text>
<circle cx="291.3" cy="299.8" r="1.9" fill="none" stroke="#e0202e" stroke-width="1.2"/>
<text x="296.70" y="301.80" font-size="6.0" fill="#333" stroke="#333" stroke-width="0.16" >CD52lo Erythroid</text>
<polygon points="358.7,297.5 360.9,301.4 356.5,301.4" fill="none" stroke="#3a40a0" stroke-width="1.1" stroke-linejoin="round"/>
<text x="364.10" y="301.80" font-size="5.95" fill="#333" stroke="#333" stroke-width="0.16" >CD52hi Erythroid</text>
<text x="6.40" y="355.00" font-size="11.0" font-weight="bold" fill="#111" >M</text>
<text x="6.70" y="382.30" font-size="5.88" fill="#1e1e1e" stroke="#1e1e1e" stroke-width="0.16" >CD52lo early erythroblasts</text>
<text x="6.70" y="437.20" font-size="5.88" fill="#1e1e1e" stroke="#1e1e1e" stroke-width="0.16" >CD52hi early erythroblasts</text>
<rect x="6.8" y="386.8" width="43.2" height="35.9" fill="#dcdce8"/>
<rect x="6.8" y="441.6" width="43.2" height="35.9" fill="#efe6d5"/>
<rect x="52.3" y="386.8" width="43.2" height="35.9" fill="#e0e0e0"/>
<rect x="52.3" y="441.6" width="43.2" height="35.9" fill="#eee3d9"/>
<rect x="98.7" y="386.8" width="43.2" height="35.9" fill="#e1e1e1"/>
<rect x="98.7" y="441.6" width="43.2" height="35.9" fill="#eee1db"/>
<rect x="144.7" y="386.8" width="43.2" height="35.9" fill="#e4d9e5"/>
<rect x="144.7" y="441.6" width="43.2" height="35.9" fill="#eddfda"/>
<clipPath id="cm1"><rect x="6.8" y="386.8" width="43.2" height="35.9"/><rect x="52.3" y="386.8" width="43.2" height="35.9"/><rect x="98.7" y="386.8" width="43.2" height="35.9"/><rect x="144.7" y="386.8" width="43.2" height="35.9"/></clipPath>
<clipPath id="cm2"><rect x="6.8" y="441.6" width="43.2" height="35.9"/><rect x="52.3" y="441.6" width="43.2" height="35.9"/><rect x="98.7" y="441.6" width="43.2" height="35.9"/><rect x="144.7" y="441.6" width="43.2" height="35.9"/></clipPath>
<g clip-path="url(#cm1)" filter="url(#bs)">
<ellipse cx="12.7" cy="392.7" rx="4.5" ry="3" fill="#c98cc0" opacity="0.8"/>
<ellipse cx="38.7" cy="417.7" rx="6.5" ry="3" fill="#e2a6cc" opacity="0.8"/>
<ellipse cx="163" cy="416" rx="6.5" ry="6" fill="#d678bc" opacity="0.85"/>
<ellipse cx="160" cy="420" rx="5" ry="3" fill="#c85aa8" opacity="0.8"/>
<ellipse cx="146.5" cy="408" rx="3.2" ry="11" fill="#c458a8" opacity="0.85"/>
<ellipse cx="174.5" cy="388.5" rx="5.5" ry="2.8" fill="#d898cc" opacity="0.8"/>
<ellipse cx="180" cy="421.5" rx="6" ry="3" fill="#d070b0" opacity="0.8"/>
<ellipse cx="151" cy="388.5" rx="5" ry="2.5" fill="#dca6d2" opacity="0.8"/>
<ellipse cx="186" cy="400" rx="2" ry="6" fill="#dcb0d8" opacity="0.6"/>
<circle cx="19.9" cy="398" r="4.30" fill="#f6f0fa" opacity="0.75"/>
<circle cx="37.7" cy="396.3" r="4.96" fill="#f6f0fa" opacity="0.75"/>
<circle cx="23.8" cy="408.1" r="4.30" fill="#f6f0fa" opacity="0.75"/>
<circle cx="42" cy="409" r="4.96" fill="#f6f0fa" opacity="0.75"/>
<circle cx="28.1" cy="415.8" r="4.41" fill="#f6f0fa" opacity="0.75"/>
<circle cx="15.1" cy="419.6" r="4.41" fill="#f6f0fa" opacity="0.75"/>
<circle cx="61.3" cy="388.8" r="3.75" fill="#f6f0fa" opacity="0.75"/>
<circle cx="75" cy="401.8" r="5.40" fill="#f6f0fa" opacity="0.75"/>
<circle cx="70.7" cy="408.6" r="5.18" fill="#f6f0fa" opacity="0.75"/>
<circle cx="81.7" cy="402.1" r="3.86" fill="#f6f0fa" opacity="0.75"/>
<circle cx="72.5" cy="405" r="4.30" fill="#f6f0fa" opacity="0.75"/>
<circle cx="85.6" cy="420.1" r="3.75" fill="#f6f0fa" opacity="0.75"/>
<circle cx="133.5" cy="395.6" r="5.95" fill="#f6f0fa" opacity="0.75"/>
<circle cx="135.4" cy="402.3" r="4.52" fill="#f6f0fa" opacity="0.75"/>
<circle cx="108.5" cy="415.3" r="4.63" fill="#f6f0fa" opacity="0.75"/>
<circle cx="131.6" cy="418.2" r="5.18" fill="#f6f0fa" opacity="0.75"/>
<circle cx="157.4" cy="397" r="4.63" fill="#f6f0fa" opacity="0.75"/>
<circle cx="152.1" cy="402.8" r="4.85" fill="#f6f0fa" opacity="0.75"/>
<circle cx="147.8" cy="401.3" r="3.20" fill="#f6f0fa" opacity="0.75"/>
<circle cx="163.9" cy="404.7" r="2.43" fill="#f6f0fa" opacity="0.75"/>
<circle cx="167.2" cy="413.4" r="4.41" fill="#f6f0fa" opacity="0.75"/>
<circle cx="182.9" cy="417.2" r="3.20" fill="#f6f0fa" opacity="0.75"/>
<circle cx="19.9" cy="398" r="3.30" fill="#4a1c78"/>
<circle cx="37.7" cy="396.3" r="3.96" fill="#6a2a98"/>
<circle cx="23.8" cy="408.1" r="3.30" fill="#55207f"/>
<circle cx="42" cy="409" r="3.96" fill="#5d2888"/>
<circle cx="28.1" cy="415.8" r="3.41" fill="#4a1c78"/>
<circle cx="15.1" cy="419.6" r="3.41" fill="#4c1e7a"/>
<circle cx="61.3" cy="388.8" r="2.75" fill="#3e1868"/>
<circle cx="75" cy="401.8" r="4.40" fill="#7a2c9a"/>
<circle cx="70.7" cy="408.6" r="4.18" fill="#5a1c88"/>
<circle cx="81.7" cy="402.1" r="2.86" fill="#6a2a98"/>
<circle cx="72.5" cy="405" r="3.30" fill="#6a2a98"/>
<circle cx="85.6" cy="420.1" r="2.75" fill="#3e1868"/>
<circle cx="133.5" cy="395.6" r="4.95" fill="#6a2a98"/>
<circle cx="135.4" cy="402.3" r="3.52" fill="#561c84"/>
<circle cx="108.5" cy="415.3" r="3.63" fill="#5a2488"/>
<circle cx="131.6" cy="418.2" r="4.18" fill="#5a2488"/>
<circle cx="157.4" cy="397" r="3.63" fill="#6a2a8e"/>
<circle cx="152.1" cy="402.8" r="3.85" fill="#581c7c"/>
<circle cx="147.8" cy="401.3" r="2.20" fill="#581c7c"/>
<circle cx="163.9" cy="404.7" r="1.43" fill="#707070"/>
<circle cx="167.2" cy="413.4" r="3.41" fill="#5a2488"/>
<circle cx="182.9" cy="417.2" r="2.20" fill="#6a2a8e"/>
<circle cx="19.57" cy="397.67" r="2.24" fill="#7e4aaa" opacity="0.45"/>
<circle cx="37.30" cy="395.90" r="2.69" fill="#7e4aaa" opacity="0.45"/>
<circle cx="23.47" cy="407.77" r="2.24" fill="#7e4aaa" opacity="0.45"/>
<circle cx="41.60" cy="408.60" r="2.69" fill="#7e4aaa" opacity="0.45"/>
<circle cx="27.76" cy="415.46" r="2.32" fill="#7e4aaa" opacity="0.45"/>
<circle cx="14.76" cy="419.26" r="2.32" fill="#7e4aaa" opacity="0.45"/>
<circle cx="61.02" cy="388.53" r="1.87" fill="#7e4aaa" opacity="0.45"/>
<circle cx="74.56" cy="401.36" r="2.99" fill="#7e4aaa" opacity="0.45"/>
<circle cx="70.28" cy="408.18" r="2.84" fill="#7e4aaa" opacity="0.45"/>
<circle cx="81.41" cy="401.81" r="1.94" fill="#7e4aaa" opacity="0.45"/>
<circle cx="72.17" cy="404.67" r="2.24" fill="#7e4aaa" opacity="0.45"/>
<circle cx="85.32" cy="419.83" r="1.87" fill="#7e4aaa" opacity="0.45"/>
<circle cx="133.00" cy="395.11" r="3.37" fill="#7e4aaa" opacity="0.45"/>
<circle cx="135.05" cy="401.95" r="2.39" fill="#7e4aaa" opacity="0.45"/>
<circle cx="108.14" cy="414.94" r="2.47" fill="#7e4aaa" opacity="0.45"/>
<circle cx="131.18" cy="417.78" r="2.84" fill="#7e4aaa" opacity="0.45"/>
<circle cx="157.04" cy="396.64" r="2.47" fill="#7e4aaa" opacity="0.45"/>
<circle cx="151.72" cy="402.42" r="2.62" fill="#7e4aaa" opacity="0.45"/>
<circle cx="147.58" cy="401.08" r="1.50" fill="#7e4aaa" opacity="0.45"/>
<circle cx="163.76" cy="404.56" r="0.97" fill="#7e4aaa" opacity="0.45"/>
<circle cx="166.86" cy="413.06" r="2.32" fill="#7e4aaa" opacity="0.45"/>
<circle cx="182.68" cy="416.98" r="1.50" fill="#7e4aaa" opacity="0.45"/>
<rect x="37.6" y="419.4" width="7.4" height="1.1" fill="#2a2030"/>
</g>
<g clip-path="url(#cm2)" filter="url(#bs)">
<ellipse cx="62" cy="470" rx="8" ry="4" fill="#e8c0d8" opacity="0.7"/>
<ellipse cx="103.7" cy="447.7" rx="3" ry="5.5" fill="#e0b0d4" opacity="0.8"/>
<ellipse cx="116.2" cy="473.7" rx="5.5" ry="3" fill="#e6b8d6" opacity="0.8"/>
<ellipse cx="132.5" cy="473.7" rx="5" ry="3" fill="#e6b8d6" opacity="0.8"/>
<ellipse cx="139" cy="455" rx="2.5" ry="6" fill="#e8bcd6" opacity="0.8"/>
<ellipse cx="146" cy="446" rx="3" ry="4" fill="#e0a8d0" opacity="0.8"/>
<ellipse cx="184" cy="472" rx="3" ry="4" fill="#d890c4" opacity="0.8"/>
<circle cx="16.5" cy="456.3" r="5.18" fill="#f6f0fa" opacity="0.75"/>
<circle cx="31" cy="452" r="4.85" fill="#f6f0fa" opacity="0.75"/>
<circle cx="34.8" cy="459.2" r="4.63" fill="#f6f0fa" opacity="0.75"/>
<circle cx="10.8" cy="464.8" r="3.20" fill="#f6f0fa" opacity="0.75"/>
<circle cx="31.4" cy="470.3" r="4.63" fill="#f6f0fa" opacity="0.75"/>
<circle cx="42.5" cy="470.8" r="4.63" fill="#f6f0fa" opacity="0.75"/>
<circle cx="53.4" cy="445.8" r="4.08" fill="#f6f0fa" opacity="0.75"/>
<circle cx="58.2" cy="454.4" r="5.40" fill="#f6f0fa" opacity="0.75"/>
<circle cx="64.9" cy="455.4" r="4.08" fill="#f6f0fa" opacity="0.75"/>
<circle cx="76" cy="454.9" r="4.30" fill="#f6f0fa" opacity="0.75"/>
<circle cx="71.6" cy="460.2" r="4.52" fill="#f6f0fa" opacity="0.75"/>
<circle cx="80.8" cy="460.7" r="5.18" fill="#f6f0fa" opacity="0.75"/>
<circle cx="85.1" cy="450.1" r="4.08" fill="#f6f0fa" opacity="0.75"/>
<circle cx="90.4" cy="454.4" r="4.85" fill="#f6f0fa" opacity="0.75"/>
<circle cx="68.8" cy="466.4" r="4.52" fill="#f6f0fa" opacity="0.75"/>
<circle cx="66.3" cy="472.7" r="4.30" fill="#f6f0fa" opacity="0.75"/>
<circle cx="57.7" cy="475.1" r="4.30" fill="#f6f0fa" opacity="0.75"/>
<circle cx="107.1" cy="463.1" r="4.08" fill="#f6f0fa" opacity="0.75"/>
<circle cx="112.5" cy="458.3" r="4.30" fill="#f6f0fa" opacity="0.75"/>
<circle cx="114.8" cy="457.4" r="3.86" fill="#f6f0fa" opacity="0.75"/>
<circle cx="117.6" cy="459.7" r="3.75" fill="#f6f0fa" opacity="0.75"/>
<circle cx="133" cy="460.7" r="6.00" fill="#f6f0fa" opacity="0.75"/>
<circle cx="155" cy="449.1" r="4.08" fill="#f6f0fa" opacity="0.75"/>
<circle cx="169.9" cy="450.6" r="4.85" fill="#f6f0fa" opacity="0.75"/>
<circle cx="183.3" cy="452" r="5.95" fill="#f6f0fa" opacity="0.75"/>
<circle cx="170.1" cy="456.5" r="2.98" fill="#f6f0fa" opacity="0.75"/>
<circle cx="169.4" cy="463.1" r="4.30" fill="#f6f0fa" opacity="0.75"/>
<circle cx="173.7" cy="466.4" r="4.52" fill="#f6f0fa" opacity="0.75"/>
<circle cx="148.7" cy="470.3" r="5.73" fill="#f6f0fa" opacity="0.75"/>
<circle cx="179" cy="472.2" r="4.63" fill="#f6f0fa" opacity="0.75"/>
<circle cx="16.5" cy="456.3" r="4.18" fill="#5a2888"/>
<circle cx="31" cy="452" r="3.85" fill="#6a2a8e"/>
<circle cx="34.8" cy="459.2" r="3.63" fill="#561c7c"/>
<circle cx="10.8" cy="464.8" r="2.20" fill="#4a1c6a"/>
<circle cx="31.4" cy="470.3" r="3.63" fill="#561c7c"/>
<circle cx="42.5" cy="470.8" r="3.63" fill="#7a2a8e"/>
<circle cx="53.4" cy="445.8" r="3.08" fill="#5e2490"/>
<circle cx="58.2" cy="454.4" r="4.40" fill="#5e2490"/>
<circle cx="64.9" cy="455.4" r="3.08" fill="#5e2490"/>
<circle cx="76" cy="454.9" r="3.30" fill="#5e2490"/>
<circle cx="71.6" cy="460.2" r="3.52" fill="#5e2490"/>
<circle cx="80.8" cy="460.7" r="4.18" fill="#5e2490"/>
<circle cx="85.1" cy="450.1" r="3.08" fill="#5e2490"/>
<circle cx="90.4" cy="454.4" r="3.85" fill="#5e2490"/>
<circle cx="68.8" cy="466.4" r="3.52" fill="#5e2490"/>
<circle cx="66.3" cy="472.7" r="3.30" fill="#5e2490"/>
<circle cx="57.7" cy="475.1" r="3.30" fill="#5e2490"/>
<circle cx="107.1" cy="463.1" r="3.08" fill="#561c7c"/>
<circle cx="112.5" cy="458.3" r="3.30" fill="#5e2488"/>
<circle cx="114.8" cy="457.4" r="2.86" fill="#5e2488"/>
<circle cx="117.6" cy="459.7" r="2.75" fill="#561c7c"/>
<circle cx="133" cy="460.7" r="5.00" fill="#62288a"/>
<circle cx="155" cy="449.1" r="3.08" fill="#6a2a8e"/>
<circle cx="169.9" cy="450.6" r="3.85" fill="#5e2488"/>
<circle cx="183.3" cy="452" r="4.95" fill="#6a2a8e"/>
<circle cx="170.1" cy="456.5" r="1.98" fill="#561c7c"/>
<circle cx="169.4" cy="463.1" r="3.30" fill="#5e2488"/>
<circle cx="173.7" cy="466.4" r="3.52" fill="#5e2488"/>
<circle cx="148.7" cy="470.3" r="4.73" fill="#6a2a8e"/>
<circle cx="179" cy="472.2" r="3.63" fill="#6a2a8e"/>
<circle cx="16.08" cy="455.88" r="2.84" fill="#7e4aaa" opacity="0.45"/>
<circle cx="30.61" cy="451.62" r="2.62" fill="#7e4aaa" opacity="0.45"/>
<circle cx="34.44" cy="458.84" r="2.47" fill="#7e4aaa" opacity="0.45"/>
<circle cx="10.58" cy="464.58" r="1.50" fill="#7e4aaa" opacity="0.45"/>
<circle cx="31.04" cy="469.94" r="2.47" fill="#7e4aaa" opacity="0.45"/>
<circle cx="42.14" cy="470.44" r="2.47" fill="#7e4aaa" opacity="0.45"/>
<circle cx="53.09" cy="445.49" r="2.09" fill="#7e4aaa" opacity="0.45"/>
<circle cx="57.76" cy="453.96" r="2.99" fill="#7e4aaa" opacity="0.45"/>
<circle cx="64.59" cy="455.09" r="2.09" fill="#7e4aaa" opacity="0.45"/>
<circle cx="75.67" cy="454.57" r="2.24" fill="#7e4aaa" opacity="0.45"/>
<circle cx="71.25" cy="459.85" r="2.39" fill="#7e4aaa" opacity="0.45"/>
<circle cx="80.38" cy="460.28" r="2.84" fill="#7e4aaa" opacity="0.45"/>
<circle cx="84.79" cy="449.79" r="2.09" fill="#7e4aaa" opacity="0.45"/>
<circle cx="90.02" cy="454.01" r="2.62" fill="#7e4aaa" opacity="0.45"/>
<circle cx="68.45" cy="466.05" r="2.39" fill="#7e4aaa" opacity="0.45"/>
<circle cx="65.97" cy="472.37" r="2.24" fill="#7e4aaa" opacity="0.45"/>
<circle cx="57.37" cy="474.77" r="2.24" fill="#7e4aaa" opacity="0.45"/>
<circle cx="106.79" cy="462.79" r="2.09" fill="#7e4aaa" opacity="0.45"/>
<circle cx="112.17" cy="457.97" r="2.24" fill="#7e4aaa" opacity="0.45"/>
<circle cx="114.51" cy="457.11" r="1.94" fill="#7e4aaa" opacity="0.45"/>
<circle cx="117.32" cy="459.43" r="1.87" fill="#7e4aaa" opacity="0.45"/>
<circle cx="132.50" cy="460.20" r="3.40" fill="#7e4aaa" opacity="0.45"/>
<circle cx="154.69" cy="448.79" r="2.09" fill="#7e4aaa" opacity="0.45"/>
<circle cx="169.52" cy="450.22" r="2.62" fill="#7e4aaa" opacity="0.45"/>
<circle cx="182.81" cy="451.50" r="3.37" fill="#7e4aaa" opacity="0.45"/>
<circle cx="169.90" cy="456.30" r="1.35" fill="#7e4aaa" opacity="0.45"/>
<circle cx="169.07" cy="462.77" r="2.24" fill="#7e4aaa" opacity="0.45"/>
<circle cx="173.35" cy="466.05" r="2.39" fill="#7e4aaa" opacity="0.45"/>
<circle cx="148.23" cy="469.83" r="3.22" fill="#7e4aaa" opacity="0.45"/>
<circle cx="178.64" cy="471.84" r="2.47" fill="#7e4aaa" opacity="0.45"/>
</g>
<text x="202.40" y="354.80" font-size="11.0" font-weight="bold" fill="#111" >N</text>
<rect x="262.0" y="383.1" width="213.0" height="125.6" rx="5" ry="5" fill="#f6e6f0"/>
<text transform="translate(272.80,350.60) scale(1.0,1.05)" x="0" y="0" font-size="5.77" fill="#2e2e36" stroke="#2e2e36" stroke-width="0.06">Steady state</text>
<path d="M277.0,361.6 C277.4,359.6 279.4,358.2 281.6,357.9 C284.4,356.9 288.4,357.6 290.8,359.8 C293.6,362.2 294.6,366.0 293.7,369.3 L281.4,369.3 C280.9,368.0 281.4,366.6 282.0,365.6 C279.8,365.1 277.8,363.6 277.0,361.6 Z" fill="#3c3c3c"/>
<circle cx="279.4" cy="357.3" r="1.3" fill="#3c3c3c"/><circle cx="284.2" cy="356.9" r="2.1" fill="#3c3c3c"/><circle cx="279.3" cy="360.6" r="0.45" fill="#ddd"/>
<path d="M293.2,369.1 C297.2,369.9 301.6,369.1 302.7,366.6 C303.2,365.2 302.9,364.2 302.3,363.7" fill="none" stroke="#555" stroke-width="0.6"/>
<path d="M298.6,361.2 C302,357.6 307,357.6 311.0,359.0" fill="none" stroke="#8a2a2a" stroke-width="0.55"/><polygon points="312.6,359.6 309.6,357.6 309.6,360.8" fill="#8a2a2a"/>
<path d="M318.2,358.2 C319.6,355.4 323.6,355.6 325.0,358.6 C326.0,361.2 325.8,364.6 324.2,367.2 C323.0,368.8 320.6,368.6 320.2,366.4 C319.8,364.0 321.2,362.6 319.8,361.4 C318.6,360.6 317.6,359.6 318.2,358.2 Z" fill="#9a2c2c"/>
<line x1="332.1" y1="362.5" x2="350.4" y2="362.5" stroke="#a03040" stroke-width="0.6"/><polygon points="352.6,362.5 349.6,361.0 349.6,364.0" fill="#a03040"/>
<g transform="rotate(30 365.8 368.7)"><ellipse cx="365.8" cy="368.7" rx="5.0" ry="4.2" fill="#d42a38"/><ellipse cx="365.8" cy="368.7" rx="2.50" ry="1.89" fill="#b81c2a" opacity="0.8"/></g>
<g transform="rotate(0 375 358.5)"><ellipse cx="375" cy="358.5" rx="5.0" ry="4.8" fill="#d42a38"/><ellipse cx="375" cy="358.5" rx="2.50" ry="2.16" fill="#b81c2a" opacity="0.8"/></g>
<g transform="rotate(-30 380.4 371.2)"><ellipse cx="380.4" cy="371.2" rx="5.2" ry="3.3" fill="#d42a38"/><ellipse cx="380.4" cy="371.2" rx="2.60" ry="1.48" fill="#b81c2a" opacity="0.8"/></g>
<g transform="rotate(-8 389.4 348.1)"><ellipse cx="389.4" cy="348.1" rx="5.4" ry="2.9" fill="#d42a38"/><ellipse cx="389.4" cy="348.1" rx="2.70" ry="1.30" fill="#b81c2a" opacity="0.8"/></g>
<g transform="rotate(0 389 361)"><ellipse cx="389" cy="361" rx="4.8" ry="4.6" fill="#d42a38"/><ellipse cx="389" cy="361" rx="2.40" ry="2.07" fill="#b81c2a" opacity="0.8"/></g>
<g transform="rotate(-20 401 356.2)"><ellipse cx="401" cy="356.2" rx="4.0" ry="5.2" fill="#d42a38"/><ellipse cx="401" cy="356.2" rx="2.00" ry="2.34" fill="#b81c2a" opacity="0.8"/></g>
<text transform="translate(414.60,360.00) scale(1.0,1.05)" x="0" y="0" font-size="5.82" fill="#2e2e36" stroke="#2e2e36" stroke-width="0.06">Reservoir of red</text>
<text transform="translate(421.70,366.70) scale(1.0,1.05)" x="0" y="0" font-size="5.82" fill="#2e2e36" stroke="#2e2e36" stroke-width="0.06">blood cells</text>
<polygon points="209.8,403.4 217.8,402.8 213.4,409.4 217.0,409.0 206.0,418.8 211.2,411.6 207.4,411.8" fill="#f29a1e"/>
<circle cx="220.0" cy="408.2" r="0.85" fill="#333"/><circle cx="220.0" cy="415.9" r="0.85" fill="#333"/>
<text transform="translate(222.50,409.60) scale(1.0,1.05)" x="0" y="0" font-size="5.80" fill="#2e2e36" stroke="#2e2e36" stroke-width="0.06">PHZ</text>
<text transform="translate(222.50,417.30) scale(1.0,1.05)" x="0" y="0" font-size="5.80" fill="#2e2e36" stroke="#2e2e36" stroke-width="0.06">Serial bleeding</text>
<g transform="translate(-74.2,69.4)"><path d="M277.0,361.6 C277.4,359.6 279.4,358.2 281.6,357.9 C284.4,356.9 288.4,357.6 290.8,359.8 C293.6,362.2 294.6,366.0 293.7,369.3 L281.4,369.3 C280.9,368.0 281.4,366.6 282.0,365.6 C279.8,365.1 277.8,363.6 277.0,361.6 Z" fill="#a47ccc"/><circle cx="279.4" cy="357.3" r="1.3" fill="#a47ccc"/><circle cx="284.2" cy="356.9" r="2.1" fill="#3e2a66"/><circle cx="279.3" cy="360.6" r="0.45" fill="#3e2a66"/><path d="M293.2,369.1 C297.2,369.9 301.6,369.1 302.7,366.6 C303.2,365.2 302.9,364.2 302.3,363.7" fill="none" stroke="#8a6ab0" stroke-width="0.6"/></g>
<path d="M221.2,429.6 C224.6,426.2 229.6,425.8 233.8,426.8" fill="none" stroke="#8a2a2a" stroke-width="0.55"/><polygon points="235.8,427.2 232.8,425.4 232.6,428.6" fill="#8a2a2a"/>
<path d="M239.4,425.0 C241.4,419.8 247.6,419.8 250.4,424.6 C253.4,429.6 253.6,436.4 250.4,440.2 C248.4,442.4 244.6,441.6 243.6,438.2 C242.8,435.4 244.2,432.4 241.6,430.6 C239.6,429.2 238.6,427.2 239.4,425.0 Z" fill="#8e2a26"/>
<path d="M244,424.5 C247,424 249.6,428 250,432" fill="none" stroke="#a8403a" stroke-width="0.8" opacity="0.7"/>
<text transform="translate(213.40,453.00) scale(1.0,1.05)" x="0" y="0" font-size="5.81" fill="#2e2e36" stroke="#2e2e36" stroke-width="0.06">Splenomegaly</text>
<line x1="256.0" y1="432.9" x2="268.6" y2="432.9" stroke="#b04050" stroke-width="0.6"/><polygon points="271.0,432.9 268.0,431.4 268.0,434.4" fill="#8a2030"/>
<text transform="translate(288.00,392.90) scale(1.0,1.05)" x="0" y="0" font-size="6.10" text-anchor="middle" font-weight="bold" fill="#1e1e1e">Stage 1</text>
<text transform="translate(288.00,400.60) scale(1.0,1.05)" x="0" y="0" font-size="5.79" text-anchor="middle" fill="#2e2e36" stroke="#2e2e36" stroke-width="0.06">Emerging</text>
<text transform="translate(288.00,406.80) scale(1.0,1.05)" x="0" y="0" font-size="5.70" text-anchor="middle" fill="#2e2e36" stroke="#2e2e36" stroke-width="0.06">erythroblast</text>
<text transform="translate(386.90,392.90) scale(1.0,1.05)" x="0" y="0" font-size="6.10" text-anchor="middle" font-weight="bold" fill="#1e1e1e">Stage 2</text>
<text transform="translate(386.90,400.60) scale(1.0,1.05)" x="0" y="0" font-size="5.79" text-anchor="middle" fill="#2e2e36" stroke="#2e2e36" stroke-width="0.06">Emerging</text>
<text transform="translate(386.90,406.80) scale(1.0,1.05)" x="0" y="0" font-size="5.70" text-anchor="middle" fill="#2e2e36" stroke="#2e2e36" stroke-width="0.06">erythroblast</text>
<text transform="translate(441.60,392.90) scale(1.0,1.05)" x="0" y="0" font-size="6.10" text-anchor="middle" font-weight="bold" fill="#1e1e1e">Stage 3</text>
<text transform="translate(441.60,400.60) scale(1.0,1.05)" x="0" y="0" font-size="5.79" text-anchor="middle" fill="#2e2e36" stroke="#2e2e36" stroke-width="0.06">Emerging</text>
<text transform="translate(441.60,406.80) scale(1.0,1.05)" x="0" y="0" font-size="5.70" text-anchor="middle" fill="#2e2e36" stroke="#2e2e36" stroke-width="0.06">erythroblast</text>
<line x1="300" y1="433.0" x2="366.0" y2="433.0" stroke="#d88090" stroke-width="0.9"/><polygon points="368.3,433.0 365.4,431.5 365.4,434.5" fill="#c04058"/>
<circle cx="288.1" cy="434.0" r="14.5" fill="#f8cdc9" stroke="#eba3a3" stroke-width="0.7"/>
<defs><radialGradient id="rg1"><stop offset="0" stop-color="#f6beb8"/><stop offset="1" stop-color="#ef9f99"/></radialGradient><radialGradient id="rg2"><stop offset="0" stop-color="#c6c2ea"/><stop offset="1" stop-color="#aaa5da"/></radialGradient></defs>
<circle cx="288.1" cy="434.0" r="10.8" fill="url(#rg1)"/>
<circle cx="309.4" cy="422.3" r="10.7" fill="#e9e6f5" stroke="#c8c4e8" stroke-width="0.6"/>
<circle cx="309.4" cy="422.3" r="7.6" fill="url(#rg2)"/>
<text transform="translate(342.40,421.40) scale(1.0,1.05)" x="0" y="0" font-size="5.86" text-anchor="middle" fill="#2e2e36" stroke="#2e2e36" stroke-width="0.06">Hiatus</text>
<text transform="translate(341.90,428.10) scale(1.0,1.05)" x="0" y="0" font-size="5.86" text-anchor="middle" fill="#2e2e36" stroke="#2e2e36" stroke-width="0.06">populations</text>
<circle cx="310.2" cy="441.6" r="0.85" fill="#333"/>
<text transform="translate(312.30,443.30) scale(1.0,1.05)" x="0" y="0" font-size="5.90" fill="#2e2e36" stroke="#2e2e36" stroke-width="0.06">Continued translation</text>
<circle cx="310.2" cy="448.7" r="0.85" fill="#333"/>
<text transform="translate(312.30,450.40) scale(1.0,1.05)" x="0" y="0" font-size="5.90" fill="#2e2e36" stroke="#2e2e36" stroke-width="0.06">Transient pause in</text>
<text transform="translate(311.90,457.20) scale(1.0,1.05)" x="0" y="0" font-size="5.87" fill="#2e2e36" stroke="#2e2e36" stroke-width="0.06">transcriptional regulation</text>
<circle cx="386.9" cy="433.6" r="12.3" fill="#f4a6aa" stroke="#ec8c94" stroke-width="0.5"/>
<circle cx="386.2" cy="432.6" r="8.0" fill="#e66f78"/>
<line x1="404.9" y1="432.4" x2="421.0" y2="432.4" stroke="#a03040" stroke-width="0.6"/><polygon points="423.3,432.4 420.3,430.9 420.3,433.9" fill="#8a2030"/>
<circle cx="441.3" cy="433.0" r="12.9" fill="#c42a38"/>
<circle cx="441.0" cy="431.8" r="8.2" fill="#a81c2a"/>
<line x1="457.8" y1="432.4" x2="476.8" y2="432.4" stroke="#a03040" stroke-width="0.6"/><polygon points="479.1,432.4 476.1,430.9 476.1,433.9" fill="#8a2030"/>
<text transform="translate(496.60,394.20) scale(1.0,1.05)" x="0" y="0" font-size="5.80" text-anchor="middle" fill="#2e2e36" stroke="#2e2e36" stroke-width="0.06">Late</text>
<text transform="translate(496.60,401.40) scale(1.0,1.05)" x="0" y="0" font-size="5.75" text-anchor="middle" fill="#2e2e36" stroke="#2e2e36" stroke-width="0.06">erythroblasts</text>
<text transform="translate(496.60,408.80) scale(1.0,1.05)" x="0" y="0" font-size="5.85" text-anchor="middle" fill="#2e2e36" stroke="#2e2e36" stroke-width="0.06">Reticulocyte</text>
<text transform="translate(496.60,416.10) scale(1.0,1.05)" x="0" y="0" font-size="5.80" text-anchor="middle" fill="#2e2e36" stroke="#2e2e36" stroke-width="0.06">RBCs</text>
<g transform="rotate(0 499.5 426.2)"><ellipse cx="499.5" cy="426.2" rx="6.0" ry="5.8" fill="#d42a38"/><ellipse cx="499.5" cy="426.2" rx="3.00" ry="2.61" fill="#b81c2a" opacity="0.8"/></g>
<g transform="rotate(40 486.9 439.8)"><ellipse cx="486.9" cy="439.8" rx="6.2" ry="4.5" fill="#d42a38"/><ellipse cx="486.9" cy="439.8" rx="3.10" ry="2.02" fill="#b81c2a" opacity="0.8"/></g>
<g transform="rotate(-35 506.2 443.3)"><ellipse cx="506.2" cy="443.3" rx="6.4" ry="3.6" fill="#d42a38"/><ellipse cx="506.2" cy="443.3" rx="3.20" ry="1.62" fill="#b81c2a" opacity="0.8"/></g>
<circle cx="272.9" cy="473.40" r="0.85" fill="#333"/>
<text transform="translate(275.50,475.10) scale(1.0,1.05)" x="0" y="0" font-size="5.90" fill="#2e2e36" stroke="#2e2e36" stroke-width="0.06">Translation</text>
<circle cx="272.9" cy="480.70" r="0.85" fill="#333"/>
<text transform="translate(275.50,482.40) scale(1.0,1.05)" x="0" y="0" font-size="5.90" fill="#2e2e36" stroke="#2e2e36" stroke-width="0.06">Peptide synthesis</text>
<circle cx="272.9" cy="488.20" r="0.85" fill="#333"/>
<text transform="translate(275.50,489.90) scale(1.0,1.05)" x="0" y="0" font-size="5.90" fill="#2e2e36" stroke="#2e2e36" stroke-width="0.06">Protein synthesis</text>
<circle cx="272.9" cy="495.70" r="0.85" fill="#333"/>
<text transform="translate(275.50,497.40) scale(1.0,1.05)" x="0" y="0" font-size="5.90" fill="#2e2e36" stroke="#2e2e36" stroke-width="0.06">Protein targeting to ER</text>
<circle cx="364.3" cy="473.40" r="0.85" fill="#333"/>
<text transform="translate(367.10,475.10) scale(1.0,1.05)" x="0" y="0" font-size="5.90" fill="#2e2e36" stroke="#2e2e36" stroke-width="0.06">DNA synthesis</text>
<circle cx="364.3" cy="480.70" r="0.85" fill="#333"/>
<text transform="translate(367.10,482.40) scale(1.0,1.05)" x="0" y="0" font-size="5.90" fill="#2e2e36" stroke="#2e2e36" stroke-width="0.06">DNA replication</text>
<circle cx="364.3" cy="488.20" r="0.85" fill="#333"/>
<text transform="translate(367.10,489.90) scale(1.0,1.05)" x="0" y="0" font-size="5.90" fill="#2e2e36" stroke="#2e2e36" stroke-width="0.06">Mitotic cell cycle</text>
<circle cx="364.3" cy="495.70" r="0.85" fill="#333"/>
<text transform="translate(367.10,497.40) scale(1.0,1.05)" x="0" y="0" font-size="5.90" fill="#2e2e36" stroke="#2e2e36" stroke-width="0.06">Chromosome</text>
<text transform="translate(367.10,505.10) scale(1.0,1.05)" x="0" y="0" font-size="5.90" fill="#2e2e36" stroke="#2e2e36" stroke-width="0.06">condensation</text>
<circle cx="429.8" cy="464.30" r="0.85" fill="#333"/>
<text transform="translate(432.40,466.00) scale(1.0,1.05)" x="0" y="0" font-size="5.90" fill="#2e2e36" stroke="#2e2e36" stroke-width="0.06">Protein</text>
<text transform="translate(432.40,473.80) scale(1.0,1.05)" x="0" y="0" font-size="5.90" fill="#2e2e36" stroke="#2e2e36" stroke-width="0.06">ubiquitination</text>
<circle cx="429.8" cy="479.20" r="0.85" fill="#333"/>
<text transform="translate(432.40,480.90) scale(1.0,1.05)" x="0" y="0" font-size="5.90" fill="#2e2e36" stroke="#2e2e36" stroke-width="0.06">Regulation of</text>
<text transform="translate(432.40,488.70) scale(1.0,1.05)" x="0" y="0" font-size="5.90" fill="#2e2e36" stroke="#2e2e36" stroke-width="0.06">transport</text>
<circle cx="429.8" cy="494.70" r="0.85" fill="#333"/>
<text transform="translate(432.40,496.40) scale(1.0,1.05)" x="0" y="0" font-size="5.90" fill="#2e2e36" stroke="#2e2e36" stroke-width="0.06">Vesicle</text>
<text transform="translate(432.40,504.20) scale(1.0,1.05)" x="0" y="0" font-size="5.90" fill="#2e2e36" stroke="#2e2e36" stroke-width="0.06">endocytosis</text>
<line x1="0" y1="0.5" x2="520" y2="0.5" stroke="#6a6a6a" stroke-width="1"/><line x1="0.5" y1="0" x2="0.5" y2="516" stroke="#7c7c7c" stroke-width="1"/><line x1="519.5" y1="0" x2="519.5" y2="516" stroke="#444" stroke-width="1"/><line x1="0" y1="515.5" x2="520" y2="515.5" stroke="#383838" stroke-width="1"/>
</svg>
</body></html>
